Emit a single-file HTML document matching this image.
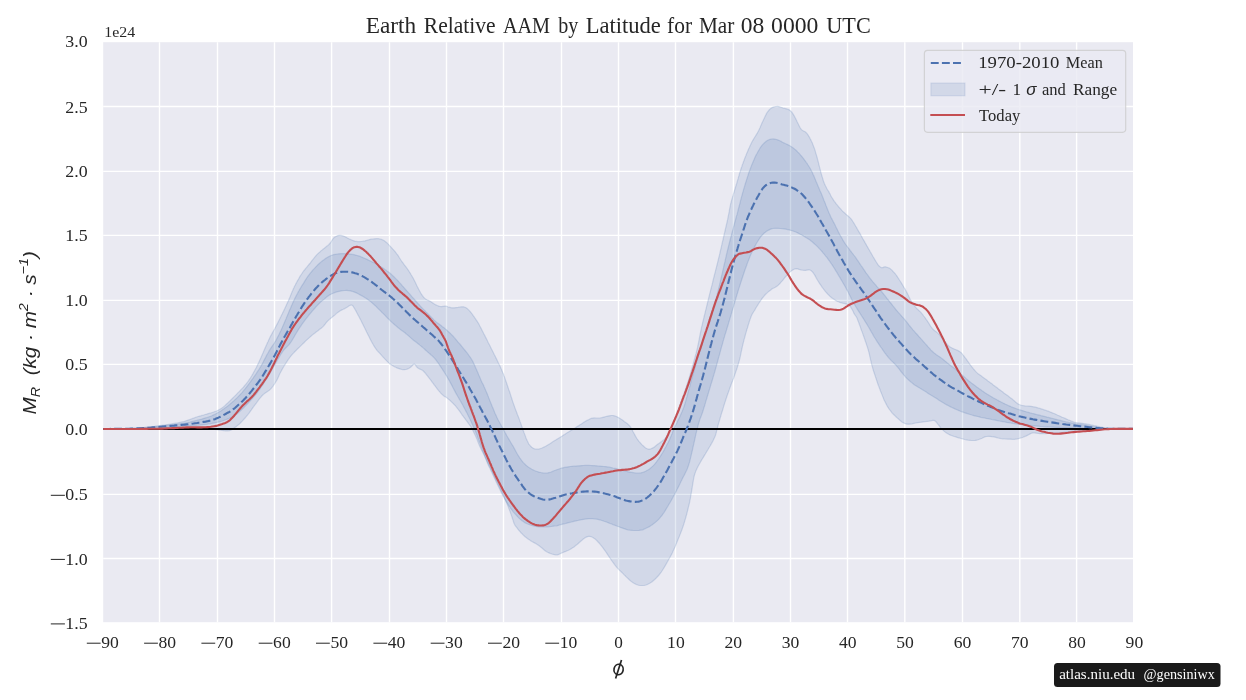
<!DOCTYPE html><html><head><meta charset="utf-8"><style>html,body{margin:0;padding:0;background:#fff;width:1246px;height:700px;overflow:hidden}</style></head><body><div style="will-change:transform;position:absolute;left:0;top:0;width:1246px;height:700px"><svg width="1246" height="700" viewBox="0 0 1246 700" style="position:absolute;left:0;top:0">
<rect width="1246" height="700" fill="#fff"/>
<rect x="103.2" y="42.2" width="1029.8" height="580.0" fill="#eaeaf2"/>
<g stroke="#fff" stroke-width="1.4" fill="none">
<path d="M159.5,42.2V622.2"/>
<path d="M217.5,42.2V622.2"/>
<path d="M274.5,42.2V622.2"/>
<path d="M331.6,42.2V622.2"/>
<path d="M389.5,42.2V622.2"/>
<path d="M446.5,42.2V622.2"/>
<path d="M503.5,42.2V622.2"/>
<path d="M561.5,42.2V622.2"/>
<path d="M618.5,42.2V622.2"/>
<path d="M675.5,42.2V622.2"/>
<path d="M733.4,42.2V622.2"/>
<path d="M790.5,42.2V622.2"/>
<path d="M847.5,42.2V622.2"/>
<path d="M904.8,42.2V622.2"/>
<path d="M962.5,42.2V622.2"/>
<path d="M1019.8,42.2V622.2"/>
<path d="M1076.6,42.2V622.2"/>
<path d="M103.2,106.5H1133.0"/>
<path d="M103.2,171.4H1133.0"/>
<path d="M103.2,235.4H1133.0"/>
<path d="M103.2,300.4H1133.0"/>
<path d="M103.2,364.4H1133.0"/>
<path d="M103.2,494.4H1133.0"/>
<path d="M103.2,558.5H1133.0"/>
</g>
<clipPath id="cp"><rect x="103.2" y="42.2" width="1029.8" height="580.0"/></clipPath>
<g clip-path="url(#cp)">
<path d="M103.0,428.8L104.3,428.8L106.0,428.8L107.9,428.8L110.0,428.8L112.3,428.8L114.7,428.8L117.1,428.7L119.4,428.7L121.5,428.6L123.4,428.6L125.3,428.6L127.1,428.5L129.0,428.5L130.8,428.4L132.7,428.3L134.5,428.2L136.4,428.1L138.3,428.0L140.1,427.9L141.9,427.8L143.7,427.6L145.5,427.4L147.3,427.2L149.1,427.0L150.9,426.8L152.7,426.6L154.4,426.4L156.2,426.1L157.9,425.9L159.7,425.7L161.5,425.4L163.4,425.1L165.4,424.9L167.2,424.6L169.1,424.3L170.9,424.0L172.7,423.7L174.3,423.4L175.9,423.1L177.5,422.9L179.3,422.5L181.0,422.1L182.4,421.8L183.8,421.5L185.2,421.1L186.6,420.6L188.1,420.1L189.7,419.6L191.2,419.0L192.8,418.4L194.3,417.9L195.9,417.3L197.4,416.8L199.0,416.3L200.5,415.9L202.1,415.4L203.6,415.0L205.2,414.5L206.7,414.1L208.3,413.6L209.9,413.2L211.5,412.7L213.0,412.2L214.4,411.7L215.8,411.2L217.1,410.7L218.3,410.1L219.5,409.5L220.7,408.8L221.9,408.0L223.0,407.2L224.0,406.4L225.1,405.5L226.1,404.5L227.2,403.5L228.3,402.5L229.3,401.5L230.4,400.5L231.4,399.5L232.4,398.5L233.4,397.5L234.5,396.4L235.6,395.3L236.7,394.2L237.6,393.2L238.6,392.2L239.5,391.3L240.5,390.2L241.5,389.2L242.5,388.2L243.5,387.1L244.4,386.0L245.3,384.9L246.2,383.8L247.1,382.7L248.0,381.5L248.8,380.4L249.6,379.2L250.4,378.0L251.1,376.7L251.9,375.5L252.7,374.1L253.4,372.8L254.1,371.5L254.8,370.3L255.5,369.0L256.2,367.7L256.8,366.4L257.5,365.0L258.2,363.6L258.9,362.2L259.5,360.8L260.1,359.4L260.8,358.0L261.4,356.6L262.0,355.2L262.6,353.8L263.2,352.5L263.8,351.1L264.4,349.7L265.0,348.3L265.6,346.9L266.2,345.5L266.8,344.2L267.4,342.8L268.1,341.5L268.7,340.1L269.3,338.8L269.9,337.4L270.6,336.1L271.3,334.9L272.0,333.6L272.6,332.4L273.3,331.2L274.0,330.0L274.7,328.8L275.3,327.5L276.0,326.2L276.7,324.9L277.4,323.6L278.1,322.2L278.8,320.8L279.5,319.4L280.2,318.0L280.9,316.6L281.5,315.3L282.2,313.9L282.8,312.6L283.5,311.3L284.1,309.9L284.8,308.5L285.4,307.2L286.0,305.9L286.6,304.6L287.2,303.3L287.8,302.0L288.4,300.7L289.0,299.3L289.6,297.9L290.2,296.5L290.8,295.0L291.4,293.6L292.0,292.1L292.6,290.7L293.2,289.2L293.9,287.8L294.6,286.3L295.3,285.0L296.0,283.6L296.7,282.3L297.4,280.9L298.2,279.6L299.0,278.2L299.7,276.9L300.5,275.7L301.3,274.5L302.1,273.3L302.9,272.0L303.9,270.7L304.8,269.6L305.7,268.4L306.7,267.3L307.6,266.2L308.5,265.1L309.4,264.0L310.4,262.8L311.3,261.6L312.2,260.4L313.2,259.2L314.1,258.0L315.0,256.9L315.9,255.8L316.9,254.7L318.0,253.6L319.1,252.6L320.2,251.7L321.2,250.7L322.3,249.9L323.3,249.0L324.4,248.2L325.6,247.2L326.7,246.3L327.9,245.4L328.9,244.5L329.8,243.5L330.7,242.5L331.4,241.3L332.1,240.1L332.8,239.0L333.7,238.0L334.9,237.1L336.3,236.2L337.7,235.6L339.3,235.3L341.0,235.4L342.9,235.9L344.6,236.5L346.1,237.2L347.4,238.0L348.8,238.7L350.3,239.4L351.7,240.0L353.2,240.6L354.7,241.1L356.2,241.4L357.8,241.7L359.6,241.7L361.5,241.5L363.3,241.2L365.1,240.8L366.7,240.4L368.1,240.0L369.6,239.6L371.1,239.2L372.7,239.0L374.5,238.8L376.4,238.7L378.3,238.7L380.0,239.0L381.5,239.4L382.9,240.0L384.3,240.8L385.5,241.7L386.5,242.5L387.5,243.4L388.4,244.3L389.3,245.3L390.3,246.3L391.2,247.3L392.1,248.3L393.0,249.3L394.0,250.4L394.9,251.5L395.8,252.6L396.7,253.8L397.6,254.9L398.4,256.1L399.1,257.3L399.9,258.5L400.7,259.8L401.5,261.0L402.3,262.1L403.1,263.2L403.9,264.3L404.7,265.3L405.5,266.3L406.3,267.4L407.1,268.5L407.9,269.6L408.7,270.8L409.5,272.1L410.3,273.3L411.1,274.7L411.9,276.0L412.7,277.4L413.5,278.8L414.2,280.2L414.9,281.6L415.6,283.0L416.3,284.5L417.0,286.0L417.7,287.4L418.4,288.7L419.1,290.0L419.8,291.4L420.6,292.8L421.4,294.1L422.2,295.3L423.0,296.4L423.8,297.5L424.8,298.4L426.0,299.3L427.4,300.0L428.8,300.6L430.1,301.2L431.3,301.9L432.4,302.7L433.5,303.5L434.7,304.2L435.9,304.9L437.2,305.5L438.7,306.1L440.0,306.5L441.5,306.6L443.2,306.3L444.9,306.0L446.4,306.2L447.7,306.7L449.2,307.2L450.7,307.6L452.4,307.8L454.3,307.8L456.1,307.6L458.0,307.4L459.9,307.0L461.8,306.8L463.5,306.8L464.8,307.2L466.0,307.8L467.1,308.5L468.1,309.4L469.1,310.4L470.0,311.3L470.8,312.3L471.6,313.3L472.4,314.4L473.2,315.6L474.0,316.7L474.8,317.9L475.5,318.9L476.1,319.8L476.7,320.7L477.3,321.6L478.1,322.8L479.0,324.4L479.8,326.0L480.5,327.3L481.2,328.6L481.8,329.9L482.5,331.2L483.2,332.6L483.9,334.0L484.7,335.4L485.4,336.9L486.2,338.4L486.9,339.8L487.6,341.3L488.3,342.7L489.1,344.2L489.8,345.6L490.5,347.0L491.2,348.4L491.9,349.8L492.6,351.2L493.4,352.8L494.1,354.3L494.8,355.5L495.4,356.7L495.9,357.9L496.6,359.1L497.2,360.4L497.8,361.7L498.4,363.0L499.1,364.3L499.7,365.5L500.3,366.8L500.9,368.2L501.5,369.6L502.1,371.0L502.7,372.5L503.3,373.8L503.8,375.2L504.3,376.5L504.8,377.9L505.3,379.4L505.8,380.9L506.3,382.3L506.8,383.8L507.3,385.3L507.8,386.8L508.3,388.3L508.8,389.8L509.4,391.3L509.9,392.8L510.4,394.4L510.9,395.9L511.4,397.5L511.9,399.0L512.4,400.6L512.9,402.1L513.4,403.6L513.9,405.0L514.5,406.6L515.0,408.1L515.6,409.7L516.2,411.2L516.8,412.7L517.3,414.2L517.9,415.6L518.4,417.1L519.0,418.5L519.5,419.9L520.0,421.4L520.6,422.9L521.1,424.4L521.6,425.9L522.1,427.3L522.6,428.8L523.1,430.2L523.6,431.5L524.1,432.9L524.7,434.4L525.3,435.9L525.8,437.4L526.4,438.9L527.0,440.3L527.6,441.6L528.2,442.8L528.8,444.1L529.8,445.2L530.7,446.3L531.7,447.2L532.8,448.0L533.9,448.6L535.1,449.0L536.4,449.2L537.8,449.2L539.2,448.9L540.6,448.5L542.0,448.0L543.4,447.4L544.7,446.7L546.1,446.0L547.4,445.2L548.6,444.5L549.9,443.7L551.1,442.9L552.4,442.1L553.6,441.3L554.8,440.6L556.1,439.8L557.3,439.0L558.6,438.2L559.8,437.5L561.0,436.7L562.3,435.9L563.5,435.1L564.7,434.4L566.0,433.6L567.2,432.8L568.5,432.0L569.7,431.3L570.9,430.5L572.2,429.7L573.4,428.9L574.7,428.2L575.9,427.4L577.1,426.6L578.4,425.9L579.6,425.1L580.9,424.3L582.2,423.4L583.4,422.6L584.7,421.8L585.9,421.1L587.1,420.4L588.5,419.7L589.8,419.0L591.2,418.4L592.7,418.1L594.4,417.9L596.2,418.0L598.1,418.0L599.9,418.0L601.6,417.7L603.1,417.3L604.6,416.9L606.1,416.5L607.6,416.1L609.4,415.8L611.3,415.5L612.9,415.5L614.4,415.8L615.8,416.3L617.2,416.9L618.5,417.6L619.7,418.3L620.8,419.0L622.0,419.7L623.1,420.5L624.2,421.4L625.3,422.2L626.5,423.1L627.7,424.0L628.7,425.0L629.7,426.0L630.6,427.2L631.4,428.5L632.1,429.8L632.8,431.2L633.5,432.5L634.2,433.8L634.9,435.1L635.6,436.4L636.4,437.7L637.2,439.0L638.0,440.1L638.9,441.3L639.9,442.4L640.8,443.5L641.8,444.6L642.8,445.5L643.9,446.5L645.0,447.4L646.1,448.2L647.2,448.8L648.4,449.1L649.7,449.1L651.1,448.8L652.5,448.1L653.9,447.4L655.0,446.5L656.2,445.5L657.3,444.6L658.5,443.8L659.6,442.9L660.7,442.1L661.7,441.4L662.7,440.6L663.7,439.9L664.5,439.1L665.4,438.2L666.1,437.2L666.9,436.1L667.6,434.9L668.4,433.5L669.1,432.1L669.9,430.6L670.6,429.0L671.2,427.7L671.7,426.4L672.2,425.0L672.8,423.7L673.3,422.2L673.9,420.8L674.5,419.3L675.0,417.8L675.6,416.4L676.1,414.9L676.6,413.5L677.2,412.1L677.7,410.6L678.3,409.1L678.9,407.6L679.4,406.2L680.0,404.7L680.5,403.3L681.1,401.8L681.6,400.4L682.2,398.9L682.7,397.3L683.2,395.9L683.8,394.4L684.3,392.9L684.8,391.3L685.3,389.8L685.8,388.2L686.3,386.7L686.8,385.1L687.3,383.6L687.8,382.1L688.3,380.6L688.8,379.0L689.3,377.4L689.8,375.8L690.2,374.3L690.7,372.8L691.1,371.2L691.6,369.6L692.0,368.1L692.5,366.4L692.9,364.8L693.4,363.3L693.8,361.7L694.2,360.1L694.7,358.6L695.1,357.0L695.5,355.3L696.0,353.7L696.4,352.1L696.8,350.4L697.2,348.8L697.6,347.2L697.9,345.5L698.3,344.0L698.6,342.4L698.9,340.8L699.2,339.2L699.5,337.6L699.8,336.0L700.1,334.3L700.5,332.5L700.9,330.6L701.3,328.7L701.6,327.2L702.0,325.7L702.4,324.1L702.7,322.5L703.1,320.9L703.5,319.3L703.9,317.7L704.3,316.0L704.7,314.4L705.1,312.7L705.5,311.1L705.9,309.4L706.3,307.8L706.7,306.2L707.1,304.6L707.5,302.9L707.9,301.3L708.3,299.7L708.7,298.0L709.1,296.4L709.5,294.7L709.9,293.2L710.3,291.6L710.7,290.0L711.1,288.5L711.5,286.9L711.9,285.4L712.3,283.9L712.7,282.3L713.0,280.7L713.4,279.2L713.8,277.6L714.2,276.0L714.6,274.4L715.0,272.9L715.4,271.3L715.8,269.7L716.2,268.1L716.6,266.6L717.0,265.0L717.4,263.4L717.8,261.8L718.2,260.2L718.6,258.5L719.0,256.9L719.4,255.3L719.8,253.7L720.1,252.1L720.5,250.5L720.9,248.8L721.3,247.2L721.7,245.5L722.0,243.9L722.4,242.2L722.8,240.6L723.2,239.0L723.5,237.4L723.9,235.8L724.2,234.2L724.6,232.7L725.0,231.0L725.4,229.2L725.8,227.5L726.2,225.7L726.6,224.0L727.0,222.3L727.3,220.8L727.7,219.2L728.0,217.7L728.3,216.2L728.6,214.7L728.9,213.2L729.2,211.7L729.4,210.2L729.7,208.7L730.0,207.2L730.3,205.7L730.6,204.2L731.0,202.6L731.4,201.1L731.8,199.6L732.3,198.0L732.7,196.5L733.2,194.9L733.7,193.2L734.2,191.5L734.7,189.8L735.2,188.2L735.7,186.6L736.2,185.0L736.7,183.5L737.1,181.9L737.6,180.3L738.1,178.7L738.5,177.1L739.0,175.5L739.4,173.9L739.9,172.4L740.4,170.9L740.8,169.5L741.3,168.0L741.9,166.4L742.4,164.8L743.0,163.2L743.5,161.7L744.1,160.2L744.6,158.7L745.2,157.3L745.8,155.9L746.3,154.5L746.9,153.1L747.5,151.7L748.1,150.2L748.7,148.8L749.4,147.5L750.0,146.1L750.6,144.8L751.2,143.5L751.8,142.3L752.5,141.0L753.3,139.6L754.1,138.3L754.9,137.0L755.7,135.7L756.5,134.4L757.3,133.1L758.0,131.8L758.7,130.4L759.4,128.9L760.1,127.4L760.7,125.9L761.4,124.5L762.0,123.0L762.7,121.6L763.3,120.2L764.0,118.7L764.7,117.3L765.3,115.9L766.0,114.6L766.6,113.4L767.4,112.2L768.2,111.1L769.1,110.0L770.0,109.1L771.0,108.3L772.2,107.6L773.8,106.9L775.6,106.5L777.4,106.4L778.9,106.6L780.3,107.0L781.7,107.5L783.1,108.0L784.7,108.4L786.4,108.8L788.0,109.3L789.5,110.1L790.6,111.0L791.6,112.0L792.5,113.2L793.4,114.6L794.2,115.9L794.9,117.2L795.6,118.6L796.3,120.0L797.0,121.5L797.7,122.9L798.3,124.1L798.9,125.4L799.6,126.7L800.3,128.0L800.9,129.0L801.7,129.9L802.7,130.6L803.9,131.2L805.1,131.8L806.2,132.7L807.1,133.7L807.9,134.8L808.7,136.1L809.5,137.4L810.2,138.8L810.9,140.1L811.5,141.4L812.1,142.6L812.6,143.8L813.1,145.1L813.6,146.5L814.2,147.9L814.7,149.4L815.2,150.9L815.6,152.5L816.1,154.1L816.6,155.8L817.1,157.5L817.5,159.2L818.0,160.9L818.4,162.5L818.8,164.1L819.2,165.8L819.6,167.4L820.0,168.9L820.4,170.5L820.8,172.0L821.2,173.6L821.7,175.2L822.2,176.9L822.7,178.5L823.2,180.2L823.7,181.7L824.3,183.3L824.9,184.7L825.5,186.1L826.2,187.3L826.8,188.5L827.5,189.7L828.2,190.8L828.9,191.9L829.5,193.1L830.2,194.3L830.7,195.4L831.3,196.6L832.0,197.7L832.8,198.9L833.5,200.1L834.3,201.3L835.2,202.4L836.0,203.6L836.9,204.7L837.9,205.9L838.8,207.0L839.8,208.1L840.8,209.2L841.8,210.3L842.8,211.3L843.8,212.3L844.9,213.2L845.9,214.2L847.0,215.1L848.0,216.0L848.9,216.8L849.6,217.5L850.1,217.9L850.5,218.2L851.0,218.8L851.8,219.9L853.0,221.8L854.3,223.8L855.1,225.2L855.6,226.1L856.2,227.0L856.8,228.1L857.4,229.2L858.1,230.4L858.8,231.6L859.6,232.9L860.4,234.3L861.2,235.8L862.0,237.2L862.8,238.7L863.6,240.1L864.5,241.6L865.3,243.1L866.2,244.6L867.0,246.1L867.9,247.6L868.7,249.1L869.6,250.5L870.4,252.0L871.2,253.4L872.0,254.8L872.8,256.2L873.6,257.5L874.4,258.9L875.1,260.1L875.8,261.2L876.4,262.2L877.0,263.2L877.6,264.1L878.1,264.9L879.3,266.2L881.3,267.7L883.0,267.6L884.2,266.9L885.5,266.8L886.9,267.2L888.3,267.7L889.6,268.3L890.7,269.1L891.6,269.9L892.5,270.8L893.4,271.8L894.4,272.8L895.3,273.9L896.1,275.0L896.9,276.1L897.7,277.3L898.5,278.5L899.3,279.8L900.1,281.0L900.9,282.3L901.7,283.6L902.5,284.9L903.3,286.2L904.1,287.6L904.9,288.9L905.7,290.2L906.4,291.6L907.1,292.9L907.8,294.3L908.5,295.7L909.1,297.1L909.8,298.4L910.4,299.7L911.1,300.9L911.8,302.1L912.6,303.3L913.4,304.3L914.1,305.4L914.9,306.4L915.7,307.4L916.6,308.3L917.5,309.2L918.5,310.1L919.4,311.0L920.4,311.9L921.3,312.9L922.1,313.9L922.9,314.9L923.7,316.0L924.5,317.0L925.3,318.1L926.1,319.3L926.9,320.4L927.7,321.6L928.5,322.8L929.3,324.1L930.1,325.4L930.9,326.6L931.7,327.7L932.5,328.8L933.6,329.8L934.7,330.7L935.8,331.6L936.9,332.4L938.0,333.4L939.0,334.4L939.9,335.4L940.8,336.5L941.7,337.6L942.7,338.8L943.6,339.9L944.5,341.0L945.5,342.2L946.4,343.4L947.3,344.5L948.2,345.5L949.3,346.4L950.6,347.3L952.0,348.0L953.3,348.6L954.7,349.2L956.1,349.8L957.5,350.4L958.9,351.1L960.2,351.9L961.2,352.8L962.2,353.9L963.1,355.1L964.0,356.2L964.8,357.3L965.7,358.5L966.6,359.6L967.4,360.8L968.3,362.0L969.1,363.2L969.9,364.3L970.8,365.5L971.6,366.6L972.5,367.7L973.4,368.8L974.3,369.8L975.2,370.9L976.1,371.9L977.1,372.9L978.1,373.7L979.2,374.5L980.3,375.3L981.4,376.1L982.5,376.9L983.6,377.7L984.6,378.4L985.7,379.2L986.8,380.0L987.9,380.9L989.0,381.7L990.0,382.5L991.1,383.3L992.2,384.1L993.2,384.9L994.3,385.7L995.3,386.5L996.4,387.3L997.5,388.1L998.5,388.9L999.6,389.7L1000.7,390.5L1001.7,391.3L1002.8,392.1L1003.8,392.9L1004.9,393.7L1006.0,394.5L1007.1,395.3L1008.2,396.1L1009.3,396.9L1010.3,397.7L1011.4,398.5L1012.4,399.3L1013.5,400.3L1014.7,401.3L1015.8,402.2L1016.8,403.1L1018.0,403.9L1019.2,404.5L1020.6,405.0L1022.0,405.4L1023.5,405.7L1025.2,405.9L1027.1,406.0L1029.0,406.1L1030.8,406.3L1032.4,406.6L1033.9,406.9L1035.4,407.2L1036.9,407.6L1038.3,408.0L1039.8,408.4L1041.3,408.9L1042.8,409.4L1044.3,409.9L1045.8,410.4L1047.3,410.9L1048.7,411.4L1050.2,412.0L1051.7,412.6L1053.2,413.2L1054.7,413.8L1056.2,414.5L1057.7,415.2L1059.1,415.8L1060.6,416.5L1062.1,417.2L1063.6,417.8L1065.1,418.4L1066.6,419.1L1068.0,419.7L1069.5,420.3L1070.8,420.9L1072.2,421.4L1073.8,422.0L1075.4,422.4L1077.0,422.7L1078.8,422.9L1080.5,423.1L1082.2,423.3L1083.9,423.6L1085.6,423.8L1087.3,424.1L1089.0,424.4L1090.6,424.8L1092.3,425.1L1093.9,425.5L1095.5,425.8L1097.1,426.2L1098.7,426.5L1100.3,426.9L1101.9,427.2L1103.5,427.5L1105.1,427.8L1106.7,428.0L1108.5,428.3L1110.2,428.5L1112.0,428.7L1114.0,428.8L1116.2,428.9L1118.2,428.9L1120.4,429.0L1122.8,429.0L1125.2,429.0L1127.5,428.9L1129.7,428.9L1131.4,428.9L1132.9,428.9L1132.9,428.9L1131.4,428.9L1129.7,428.9L1127.5,428.9L1125.2,428.9L1122.8,428.9L1120.4,428.9L1118.2,428.9L1116.3,428.9L1114.3,429.0L1112.3,429.0L1110.4,429.1L1108.5,429.1L1106.6,429.2L1104.7,429.3L1102.8,429.5L1100.9,429.6L1099.0,429.7L1097.1,429.9L1095.2,430.1L1093.2,430.2L1091.3,430.4L1089.3,430.5L1087.4,430.6L1085.4,430.8L1083.4,430.9L1081.3,430.8L1079.3,430.8L1077.3,430.8L1075.4,430.8L1073.4,431.0L1071.5,431.2L1069.8,431.5L1068.0,431.7L1066.2,432.0L1064.3,432.2L1062.5,432.5L1060.6,432.7L1058.8,432.8L1056.9,433.0L1055.1,433.1L1053.2,433.2L1051.3,433.3L1049.5,433.4L1047.6,433.5L1045.8,433.6L1043.9,433.6L1042.0,433.7L1040.1,433.7L1038.3,433.5L1036.4,433.2L1034.6,432.8L1032.9,432.8L1031.4,433.2L1030.0,433.9L1028.6,434.7L1027.2,435.4L1025.8,436.1L1024.4,436.6L1023.0,437.2L1021.6,437.7L1020.3,438.1L1018.9,438.5L1017.5,438.9L1016.0,439.1L1014.3,439.3L1012.4,439.3L1010.5,439.2L1008.6,439.2L1006.8,439.1L1004.9,439.0L1003.0,438.8L1001.3,438.6L999.7,438.3L998.2,438.0L996.7,437.6L995.2,437.2L993.7,436.9L991.8,436.7L989.9,436.4L988.1,436.3L986.4,436.5L984.8,436.9L983.4,437.5L982.1,438.2L980.8,438.8L979.4,439.3L978.1,439.8L976.7,440.2L975.1,440.4L973.4,440.5L971.6,440.5L969.7,440.3L967.9,440.1L966.3,439.8L964.8,439.5L963.3,439.1L961.8,438.7L960.3,438.2L958.8,437.8L957.3,437.4L955.7,436.9L954.3,436.5L952.8,436.0L951.4,435.5L950.0,434.9L948.7,434.3L947.4,433.6L946.2,432.8L945.0,431.9L943.8,430.9L942.8,429.9L941.7,428.9L940.7,427.8L939.8,426.6L938.9,425.4L938.0,424.3L937.1,423.1L936.2,422.0L935.2,421.0L934.1,420.4L932.6,420.4L930.7,420.8L928.9,421.2L927.1,421.4L925.1,421.6L923.2,421.9L921.3,422.2L919.4,422.4L917.6,422.7L915.7,423.0L913.8,423.4L911.9,423.8L910.1,424.1L908.4,424.2L906.8,424.1L905.4,423.7L904.1,423.1L902.8,422.4L901.6,421.7L900.5,420.8L899.4,419.9L898.3,418.8L897.2,417.9L896.2,417.0L895.3,416.1L894.4,415.2L893.4,414.3L892.5,413.3L891.6,412.3L890.8,411.2L890.0,410.2L889.2,409.1L888.4,407.9L887.6,406.7L886.8,405.3L886.1,403.9L885.4,402.6L884.8,401.3L884.1,399.9L883.5,398.4L882.9,396.9L882.3,395.4L881.7,393.9L881.1,392.4L880.5,391.0L880.0,389.5L879.4,388.1L878.9,386.6L878.3,385.2L877.8,383.7L877.3,382.3L876.8,380.8L876.3,379.3L875.8,377.8L875.3,376.4L874.8,374.8L874.3,373.3L873.8,371.8L873.3,370.3L872.9,368.8L872.5,367.2L872.0,365.7L871.6,364.1L871.2,362.6L870.9,361.0L870.5,359.4L870.2,357.8L869.8,356.3L869.5,354.7L869.1,353.2L868.7,351.6L868.3,350.1L867.8,348.5L867.4,347.0L866.8,345.4L866.3,343.9L865.7,342.0L865.1,340.5L864.7,339.1L864.1,337.6L863.6,336.0L863.0,334.4L862.4,332.6L861.7,330.9L861.1,329.2L860.5,327.4L859.9,325.8L859.3,324.2L858.8,322.7L858.3,321.4L857.8,320.2L857.3,318.8L856.5,317.1L855.8,316.0L855.3,315.3L854.7,314.5L854.0,313.4L853.4,312.1L852.8,310.8L852.1,309.5L851.4,308.2L850.7,307.1L849.9,306.1L848.8,305.2L847.7,304.5L846.5,304.1L845.2,303.7L843.5,303.3L841.7,302.9L839.9,302.4L838.4,301.8L837.0,301.2L835.6,300.4L834.3,299.6L833.1,298.8L832.0,298.0L830.8,297.0L829.7,296.0L828.7,295.0L827.7,294.0L826.8,293.0L825.8,291.9L824.9,290.8L824.0,289.7L823.1,288.5L822.2,287.3L821.4,286.1L820.6,284.9L819.7,283.7L818.9,282.4L818.2,281.2L817.4,280.0L816.6,278.6L815.9,277.3L815.2,275.9L814.5,274.7L813.7,273.6L812.9,272.4L811.9,271.4L811.0,270.5L809.9,270.0L808.5,269.9L807.0,270.1L805.4,270.4L803.8,270.3L802.3,270.1L800.8,269.8L799.2,269.4L797.7,268.9L796.1,268.7L794.6,269.0L793.1,269.8L791.6,270.7L790.6,271.6L789.6,272.4L788.7,273.4L787.7,274.4L786.8,275.4L785.9,276.4L784.9,277.5L784.0,278.7L783.1,279.8L782.2,280.9L781.2,281.9L780.3,283.0L779.4,284.0L778.5,284.9L777.6,285.8L776.5,286.6L775.3,287.3L773.9,288.0L772.4,288.6L771.3,289.5L770.1,290.4L769.0,291.2L767.9,292.1L766.9,293.1L765.9,294.0L764.9,295.0L764.0,296.1L763.2,297.1L762.3,298.2L761.5,299.4L760.7,300.5L759.8,301.8L759.0,303.0L758.2,304.3L757.4,305.6L756.5,307.0L755.7,308.3L755.0,309.6L754.3,310.8L753.5,312.0L752.8,313.1L752.1,314.2L751.5,315.5L751.0,316.8L750.5,318.2L750.0,319.6L749.4,321.3L748.9,323.0L748.3,324.8L747.8,326.6L747.4,328.0L746.9,329.4L746.5,330.9L746.1,332.4L745.6,333.9L745.2,335.5L744.8,337.1L744.3,338.7L743.9,340.3L743.5,341.9L743.1,343.5L742.7,345.1L742.3,346.8L742.0,348.5L741.6,350.2L741.2,351.9L740.9,353.6L740.5,355.3L740.2,356.9L739.8,358.6L739.4,360.1L739.0,361.7L738.5,363.2L738.1,364.7L737.6,366.2L737.2,367.7L736.7,369.2L736.2,370.6L735.7,372.1L735.2,373.5L734.7,375.0L734.2,376.5L733.7,378.0L733.1,379.4L732.6,380.9L732.0,382.3L731.4,383.8L730.9,385.3L730.3,386.8L729.7,388.3L729.2,389.9L728.7,391.3L728.2,392.8L727.6,394.3L727.1,395.7L726.6,397.3L726.1,398.8L725.6,400.3L725.1,401.9L724.6,403.4L724.1,405.0L723.6,406.6L723.2,408.1L722.7,409.7L722.2,411.3L721.7,412.8L721.2,414.4L720.8,416.0L720.3,417.5L719.9,419.1L719.4,420.6L719.0,422.1L718.5,423.6L718.1,425.1L717.7,426.5L717.4,428.0L717.0,429.4L716.7,430.6L716.4,431.9L716.1,433.2L715.7,434.6L715.1,436.2L714.3,438.0L713.5,439.8L712.9,441.0L712.3,442.1L711.7,443.2L711.0,444.4L710.3,445.7L709.5,447.0L708.7,448.3L707.9,449.7L707.0,451.1L706.2,452.5L705.3,454.0L704.4,455.4L703.6,456.9L702.7,458.3L701.8,459.7L701.0,461.1L700.2,462.5L699.5,463.7L698.8,465.0L698.1,466.3L697.4,467.6L696.8,468.9L696.2,470.2L695.6,471.6L695.1,473.1L694.6,474.5L694.2,476.0L693.9,477.5L693.6,479.0L693.3,480.5L693.1,482.0L692.8,483.6L692.6,485.1L692.3,486.6L692.1,488.2L691.8,489.9L691.5,491.6L691.2,493.3L690.9,495.1L690.6,496.9L690.3,498.7L689.9,500.5L689.6,502.3L689.2,504.0L688.8,505.6L688.4,507.2L688.0,508.9L687.6,510.5L687.2,512.2L686.8,513.8L686.3,515.5L685.9,517.1L685.4,518.7L685.0,520.2L684.5,521.7L684.1,523.2L683.6,524.7L683.1,526.3L682.5,527.9L682.0,529.5L681.4,531.0L680.8,532.5L680.3,533.9L679.7,535.3L679.2,536.7L678.6,538.1L678.0,539.5L677.4,541.0L676.8,542.5L676.2,544.0L675.6,545.5L675.0,547.0L674.3,548.4L673.7,549.8L673.1,551.1L672.5,552.5L671.8,553.9L671.1,555.2L670.4,556.5L669.7,557.8L669.0,559.0L668.3,560.2L667.6,561.5L666.9,562.7L666.1,564.1L665.3,565.5L664.5,566.9L663.7,568.2L662.9,569.5L662.1,570.8L661.3,572.0L660.4,573.2L659.5,574.4L658.6,575.5L657.6,576.5L656.7,577.5L655.7,578.5L654.7,579.5L653.5,580.5L652.4,581.5L651.3,582.3L650.1,583.1L648.8,583.8L647.4,584.5L646.0,585.0L644.5,585.3L642.8,585.5L640.9,585.5L639.2,585.3L637.7,585.0L636.3,584.5L634.9,583.8L633.5,583.1L632.4,582.3L631.2,581.4L630.1,580.5L629.0,579.5L628.0,578.5L627.0,577.6L626.0,576.7L625.1,575.7L624.2,574.8L623.3,573.8L622.3,572.9L621.4,572.0L620.5,571.1L619.5,570.2L618.6,569.3L617.7,568.3L616.8,567.3L616.0,566.3L615.2,565.3L614.4,564.3L613.6,563.2L612.8,562.1L612.0,561.0L611.2,559.9L610.4,558.7L609.6,557.5L608.8,556.3L608.0,555.1L607.2,553.9L606.4,552.7L605.6,551.5L604.8,550.4L604.0,549.3L603.2,548.2L602.4,547.1L601.6,546.1L600.8,545.1L600.0,544.1L599.1,543.0L598.1,542.0L597.2,541.0L596.3,540.1L595.4,539.3L594.3,538.4L592.9,537.5L591.3,536.7L589.8,536.4L588.3,536.4L586.8,536.9L585.3,537.6L584.1,538.4L583.0,539.2L581.9,540.2L580.7,541.2L579.6,542.2L578.5,543.2L577.4,544.2L576.3,545.1L575.1,546.0L574.0,546.9L572.6,547.8L571.2,548.7L569.9,549.5L568.5,550.2L567.1,550.8L565.7,551.4L564.3,551.9L562.9,552.5L561.5,553.1L560.1,553.8L558.7,554.4L557.2,554.8L555.5,554.8L553.6,554.4L551.9,554.0L550.3,553.5L549.0,552.9L547.6,552.3L546.2,551.5L545.1,550.7L543.9,549.8L542.8,548.8L541.7,547.8L540.6,546.9L539.5,546.1L538.4,545.3L537.2,544.5L536.1,543.8L534.9,543.1L533.6,542.4L532.3,541.7L531.0,540.9L529.7,540.1L528.5,539.3L527.3,538.5L526.2,537.6L525.1,536.8L524.1,535.8L523.1,534.9L522.2,533.9L521.2,533.0L520.3,531.9L519.4,530.9L518.5,529.9L517.7,528.8L516.9,527.7L516.0,526.7L515.2,525.6L514.6,524.5L514.0,523.3L513.6,522.0L513.2,520.6L512.7,519.2L512.2,517.8L511.8,516.4L511.2,514.9L510.7,513.4L510.2,511.9L509.6,510.4L509.0,508.9L508.4,507.4L507.9,505.9L507.3,504.5L506.7,503.0L506.1,501.7L505.6,500.3L505.0,499.0L504.5,497.7L503.9,496.4L503.3,495.1L502.7,493.7L502.0,492.2L501.3,490.7L500.5,489.0L499.8,487.5L499.2,486.2L498.6,484.9L498.0,483.7L497.4,482.3L496.7,480.9L496.0,479.5L495.3,478.0L494.6,476.5L493.8,475.0L493.1,473.5L492.4,472.0L491.7,470.5L491.0,469.0L490.3,467.6L489.7,466.3L489.0,465.0L488.5,463.8L487.9,462.7L487.4,461.7L486.8,460.4L485.9,458.6L485.1,457.0L484.6,455.9L484.2,455.1L483.7,454.3L483.2,453.3L482.6,452.1L482.0,450.9L481.4,449.7L480.8,448.5L480.2,447.2L479.6,445.9L479.0,444.6L478.5,443.4L478.0,442.0L477.5,440.7L477.0,439.3L476.4,437.9L475.8,436.6L475.2,435.3L474.6,434.0L474.0,432.7L473.4,431.4L472.7,430.0L472.0,428.7L471.2,427.4L470.5,426.2L469.7,425.1L468.9,424.0L468.1,422.8L467.2,421.7L466.3,420.5L465.5,419.4L464.6,418.2L463.8,417.1L462.9,415.9L462.1,414.8L461.3,413.6L460.5,412.4L459.6,411.2L458.8,410.1L458.0,409.0L457.1,407.9L456.3,406.8L455.3,405.7L454.2,404.5L453.1,403.4L452.1,402.4L451.0,401.4L450.0,400.4L448.9,399.5L447.8,398.6L446.8,397.8L445.7,397.1L444.6,396.4L443.6,395.7L442.5,394.8L441.5,393.9L440.5,392.8L439.6,391.7L438.6,390.6L437.6,389.3L436.7,388.1L435.8,386.9L434.9,385.7L434.0,384.6L433.2,383.4L432.3,382.3L431.5,381.2L430.8,380.2L430.0,379.2L429.2,378.2L428.4,377.1L427.5,376.0L426.6,374.8L425.7,373.6L424.7,372.5L423.8,371.5L422.8,370.6L421.4,369.8L419.9,369.1L418.6,368.5L417.3,367.6L416.3,366.3L415.4,364.8L414.5,364.1L413.5,364.4L412.4,365.5L411.1,366.7L409.9,367.8L408.6,368.5L407.2,369.1L405.8,369.5L404.4,369.7L402.9,369.6L401.5,369.3L399.9,368.9L398.4,368.4L396.9,367.9L395.7,367.3L394.4,366.7L393.2,366.0L392.0,365.3L390.9,364.6L389.8,363.7L388.7,362.9L387.7,361.9L386.7,360.9L385.8,359.9L384.8,358.9L383.9,357.9L382.9,356.8L382.0,355.8L381.0,354.7L380.1,353.7L379.1,352.7L378.1,351.6L377.2,350.6L376.3,349.4L375.4,348.2L374.6,346.9L373.8,345.7L373.0,344.3L372.3,343.0L371.5,341.6L370.8,340.2L370.1,338.9L369.4,337.5L368.7,336.1L368.0,334.7L367.3,333.3L366.6,331.9L365.9,330.4L365.2,329.0L364.5,327.6L363.8,326.2L363.1,324.8L362.4,323.4L361.7,322.0L361.0,320.6L360.3,319.2L359.6,317.9L358.9,316.5L358.1,315.1L357.4,313.7L356.6,312.3L355.9,310.9L355.2,309.7L354.6,308.6L353.9,307.5L353.1,306.2L352.2,305.2L351.3,305.0L350.1,305.3L348.8,306.0L347.5,306.9L346.1,307.8L344.7,308.6L343.3,309.3L341.9,309.9L340.5,310.6L339.2,311.4L338.1,312.2L336.9,313.1L335.8,314.1L334.7,315.1L333.6,316.0L332.5,316.9L331.4,317.8L330.3,318.7L329.1,319.6L328.1,320.7L327.1,321.7L326.2,322.7L325.3,323.9L324.4,325.0L323.5,326.1L322.5,327.1L321.5,328.0L320.4,328.8L319.3,329.6L318.3,330.4L317.2,331.2L316.1,332.0L315.0,332.9L313.9,333.7L312.8,334.6L311.7,335.5L310.6,336.5L309.6,337.4L308.5,338.4L307.4,339.4L306.3,340.4L305.2,341.4L304.2,342.5L303.1,343.5L302.0,344.6L301.0,345.6L299.9,346.7L298.8,347.8L297.7,348.8L296.6,349.9L295.5,351.0L294.5,352.0L293.5,353.1L292.5,354.1L291.6,355.2L290.8,356.2L290.0,357.2L289.2,358.3L288.4,359.3L287.7,360.4L286.9,361.6L286.1,362.8L285.3,364.1L284.5,365.3L283.7,366.7L282.9,368.0L282.1,369.4L281.4,370.8L280.6,372.2L279.9,373.6L279.2,375.1L278.6,376.6L277.9,378.0L277.2,379.4L276.5,380.8L275.7,382.0L275.0,383.3L274.2,384.4L273.5,385.5L272.7,386.6L271.9,387.6L271.1,388.5L270.2,389.4L269.2,390.3L268.2,391.1L267.1,391.8L266.0,392.5L264.9,393.2L263.8,394.1L262.8,395.0L261.8,396.0L260.9,397.1L260.0,398.2L259.0,399.4L258.1,400.6L257.2,401.8L256.3,403.1L255.4,404.3L254.5,405.4L253.7,406.6L252.9,407.7L252.0,408.9L251.2,410.1L250.4,411.2L249.6,412.4L248.7,413.5L247.9,414.6L247.0,415.7L246.0,416.8L245.0,418.0L244.1,419.0L243.1,420.1L242.2,421.1L241.3,422.0L240.4,423.0L239.3,424.0L238.1,425.0L237.0,425.9L236.0,426.7L234.8,427.6L233.6,428.5L232.2,429.4L230.8,430.1L229.3,430.6L227.7,430.8L225.9,430.8L224.0,430.6L222.0,430.3L220.3,430.1L218.6,429.9L216.8,429.6L214.8,429.3L212.8,429.1L210.9,428.8L209.1,428.7L207.4,428.5L205.6,428.4L203.8,428.3L201.9,428.1L199.9,428.0L197.9,428.0L195.9,427.9L194.0,427.9L192.0,427.9L189.9,427.9L187.8,427.9L185.7,427.9L183.6,428.0L181.5,428.0L179.4,428.1L177.3,428.1L175.4,428.1L173.6,428.2L171.8,428.2L170.0,428.2L168.2,428.3L166.3,428.3L164.3,428.4L162.0,428.4L159.9,428.5L158.0,428.5L156.4,428.5L154.6,428.5L152.7,428.6L150.8,428.6L148.9,428.6L146.9,428.6L144.9,428.7L142.8,428.7L140.8,428.7L138.8,428.7L136.7,428.8L134.8,428.8L132.8,428.8L130.8,428.8L128.8,428.8L126.6,428.9L124.3,428.9L122.0,428.9L119.7,428.9L117.4,428.9L115.2,428.9L113.0,429.0L110.9,429.0L108.9,429.0L107.2,429.0L105.6,429.0L104.2,429.0L103.0,429.0Z" fill="#4c72b0" fill-opacity="0.15" stroke="#4c72b0" stroke-opacity="0.2" stroke-width="1.2"/>
<path d="M103.0,428.8L104.2,428.8L105.6,428.8L107.2,428.8L108.9,428.8L110.9,428.8L113.0,428.8L115.2,428.8L117.4,428.8L119.7,428.8L122.0,428.7L124.3,428.7L126.6,428.6L128.8,428.5L130.8,428.5L132.7,428.4L134.5,428.2L136.4,428.1L138.3,428.0L140.2,427.8L142.1,427.7L144.0,427.5L145.9,427.3L147.8,427.2L149.6,427.0L151.4,426.8L153.2,426.7L154.9,426.5L156.6,426.3L158.1,426.2L159.8,426.0L161.9,425.8L164.0,425.6L165.9,425.4L167.8,425.3L169.6,425.1L171.2,424.9L172.8,424.7L174.4,424.5L175.8,424.4L177.4,424.2L179.1,423.9L180.8,423.7L182.3,423.5L183.8,423.2L185.2,423.0L186.8,422.7L188.4,422.3L190.0,422.0L191.6,421.6L193.3,421.2L195.0,420.8L196.8,420.4L198.5,419.9L200.2,419.5L201.8,419.1L203.3,418.6L204.9,418.1L206.4,417.7L207.8,417.2L209.2,416.7L210.6,416.2L211.9,415.7L213.2,415.1L214.5,414.5L215.9,413.8L217.2,413.1L218.6,412.3L219.9,411.5L221.2,410.7L222.4,409.8L223.7,409.0L224.9,408.1L226.1,407.3L227.2,406.4L228.4,405.5L229.6,404.5L230.7,403.5L231.9,402.5L233.0,401.5L234.1,400.6L235.1,399.6L236.1,398.7L237.2,397.7L238.2,396.6L239.2,395.6L240.3,394.5L241.3,393.4L242.3,392.3L243.2,391.2L244.0,390.2L244.9,389.2L245.7,388.1L246.5,387.0L247.4,385.9L248.2,384.8L249.1,383.7L249.9,382.5L250.8,381.3L251.6,380.2L252.4,379.1L253.2,378.0L253.9,376.9L254.7,375.8L255.5,374.7L256.3,373.5L257.0,372.4L257.8,371.2L258.6,370.0L259.4,368.8L260.1,367.5L260.9,366.2L261.6,364.9L262.4,363.6L263.2,362.1L263.9,360.6L264.7,359.1L265.5,357.6L266.2,356.2L266.9,354.8L267.7,353.5L268.4,352.2L269.1,350.9L269.9,349.7L270.6,348.5L271.4,347.3L272.2,346.2L273.0,345.0L273.8,343.9L274.5,342.7L275.3,341.4L276.0,340.2L276.7,338.9L277.4,337.5L278.2,336.1L278.9,334.7L279.6,333.2L280.3,331.8L281.0,330.4L281.6,329.0L282.3,327.5L282.9,326.0L283.6,324.6L284.2,323.1L284.8,321.7L285.4,320.3L286.0,318.9L286.5,317.5L287.2,316.0L287.8,314.6L288.4,313.1L289.0,311.6L289.6,310.1L290.3,308.7L290.9,307.2L291.5,305.8L292.1,304.4L292.7,303.0L293.4,301.5L294.1,300.1L294.8,298.6L295.5,297.2L296.2,295.8L296.9,294.5L297.6,293.2L298.3,291.8L299.1,290.5L299.9,289.1L300.7,287.7L301.5,286.4L302.3,285.1L303.1,283.9L303.9,282.6L304.6,281.4L305.4,280.1L306.2,278.9L306.9,277.8L307.7,276.6L308.6,275.4L309.4,274.3L310.3,273.2L311.2,272.1L312.1,271.0L313.0,269.9L314.0,268.9L315.0,267.8L315.9,266.8L316.9,265.8L317.9,264.8L319.0,263.8L320.1,262.8L321.1,261.9L322.2,261.0L323.2,260.2L324.4,259.4L325.5,258.5L326.8,257.7L328.0,257.0L329.3,256.4L330.5,255.8L331.9,255.3L333.6,254.7L335.5,254.3L337.3,254.0L339.2,253.8L341.0,253.7L342.9,253.7L344.7,253.7L346.6,253.8L348.5,253.9L350.3,254.1L352.2,254.4L353.9,254.7L355.5,255.1L357.0,255.5L358.5,255.9L360.0,256.4L361.5,257.0L362.9,257.6L364.4,258.2L365.9,258.9L367.4,259.6L368.8,260.3L370.1,260.9L371.4,261.5L372.6,262.1L373.8,262.7L375.1,263.3L376.3,264.0L377.6,264.7L378.8,265.5L380.0,266.2L381.3,267.0L382.5,267.8L383.7,268.6L384.8,269.4L385.9,270.1L386.9,270.9L388.0,271.7L389.1,272.5L390.1,273.3L391.2,274.2L392.2,275.2L393.3,276.2L394.4,277.2L395.4,278.3L396.5,279.4L397.6,280.5L398.6,281.6L399.5,282.7L400.5,283.7L401.4,284.7L402.3,285.8L403.3,286.8L404.2,287.9L405.1,289.0L406.0,290.0L407.0,291.1L407.9,292.1L408.8,293.2L409.8,294.2L410.7,295.2L411.6,296.3L412.5,297.3L413.5,298.4L414.4,299.4L415.3,300.5L416.3,301.6L417.2,302.6L418.1,303.7L419.1,304.7L420.0,305.7L420.9,306.8L422.0,307.8L423.0,308.9L424.1,310.0L425.2,311.0L426.2,312.1L427.3,313.1L428.3,314.2L429.4,315.3L430.5,316.3L431.5,317.4L432.6,318.5L433.6,319.6L434.7,320.6L435.8,321.6L436.8,322.5L437.9,323.3L439.0,324.1L440.0,324.8L441.1,325.6L442.1,326.4L443.2,327.2L444.3,328.0L445.3,328.9L446.4,329.8L447.4,330.7L448.5,331.7L449.6,332.7L450.6,333.6L451.5,334.6L452.4,335.5L453.3,336.4L454.1,337.4L455.0,338.4L456.0,339.6L456.9,340.7L457.8,341.8L458.7,342.8L459.7,343.9L460.6,345.0L461.5,346.1L462.4,347.2L463.3,348.3L464.2,349.4L465.1,350.5L466.0,351.6L466.9,352.7L467.8,353.9L468.6,355.0L469.4,356.2L470.3,357.3L471.1,358.5L471.8,359.7L472.5,360.9L473.1,362.1L473.6,363.4L474.3,364.6L474.9,366.0L475.5,367.4L476.1,368.7L476.8,370.2L477.4,371.7L478.0,373.1L478.6,374.6L479.2,376.1L479.9,377.6L480.5,379.0L481.1,380.4L481.7,381.7L482.3,383.0L483.0,384.3L483.6,385.6L484.2,387.0L484.8,388.3L485.4,389.7L486.0,391.1L486.6,392.4L487.2,393.8L487.7,395.2L488.3,396.6L488.8,398.0L489.4,399.4L489.9,400.8L490.5,402.3L491.1,403.6L491.6,405.1L492.2,406.5L492.9,408.0L493.5,409.5L494.1,411.0L494.7,412.5L495.3,413.9L496.0,415.3L496.6,416.7L497.2,418.0L497.9,419.4L498.6,420.8L499.3,422.0L500.0,423.3L500.7,424.5L501.4,425.8L502.1,427.0L502.8,428.3L503.5,429.5L504.2,430.9L504.9,432.2L505.6,433.4L506.3,434.7L507.0,436.0L507.7,437.2L508.4,438.4L509.1,439.6L509.8,440.8L510.5,442.0L511.2,443.2L511.9,444.4L512.7,445.6L513.4,446.8L514.1,448.1L514.8,449.4L515.5,450.7L516.2,452.0L516.9,453.3L517.6,454.5L518.3,455.7L519.1,456.9L519.9,458.1L520.7,459.2L521.5,460.3L522.3,461.3L523.1,462.3L523.9,463.2L525.0,464.2L526.0,465.2L527.1,466.1L528.2,467.0L529.4,467.8L530.6,468.5L531.8,469.2L533.1,469.9L534.3,470.5L535.6,471.0L537.0,471.5L538.8,472.1L540.7,472.5L542.5,472.8L544.4,473.0L546.3,473.0L548.1,472.8L549.8,472.4L551.2,472.0L552.6,471.4L554.0,470.8L555.4,470.3L556.8,469.7L558.3,469.2L559.8,468.7L561.4,468.2L563.0,467.8L564.7,467.4L566.6,467.1L568.5,466.8L570.3,466.5L572.2,466.3L574.0,466.2L575.9,466.1L577.7,465.9L579.6,465.8L581.5,465.6L583.3,465.5L585.2,465.4L587.0,465.4L588.9,465.4L590.8,465.5L592.6,465.6L594.5,465.7L596.3,465.8L598.2,466.0L600.0,466.1L601.9,466.3L603.8,466.5L605.6,466.6L607.5,466.9L609.3,467.2L611.2,467.6L613.0,468.0L614.8,468.3L616.4,468.7L617.9,469.1L619.4,469.5L620.8,469.8L622.3,470.2L623.8,470.6L625.3,471.0L626.8,471.4L628.3,471.8L629.9,472.1L631.7,472.4L633.6,472.7L635.4,472.9L637.3,473.0L639.1,473.0L641.0,472.8L642.7,472.4L644.2,471.9L645.6,471.3L646.9,470.5L648.3,469.7L649.5,468.9L650.6,468.1L651.7,467.1L652.8,466.1L653.8,465.1L654.7,464.1L655.5,463.1L656.3,462.1L657.1,461.0L657.9,459.9L658.7,458.8L659.5,457.6L660.3,456.4L661.1,455.1L661.9,453.8L662.7,452.5L663.5,451.1L664.3,449.7L665.0,448.3L665.8,447.0L666.5,445.6L667.2,444.2L668.0,442.7L668.7,441.3L669.4,439.9L670.0,438.5L670.6,437.1L671.2,435.8L671.7,434.6L672.1,433.5L672.5,432.3L673.0,431.0L673.6,429.7L674.3,428.3L674.9,427.0L675.5,425.6L676.1,424.3L676.8,422.9L677.4,421.6L678.1,420.2L678.8,418.8L679.5,417.4L680.1,416.0L680.8,414.6L681.4,413.1L682.0,411.7L682.6,410.2L683.2,408.7L683.8,407.3L684.3,405.8L684.8,404.3L685.2,402.7L685.7,401.2L686.1,399.7L686.5,398.1L687.0,396.5L687.4,395.0L687.8,393.4L688.3,391.8L688.7,390.2L689.2,388.7L689.6,387.1L690.0,385.5L690.4,383.9L690.9,382.3L691.3,380.7L691.7,379.1L692.2,377.5L692.6,375.9L693.0,374.4L693.4,372.8L693.9,371.3L694.3,369.7L694.8,368.1L695.3,366.5L695.7,365.0L696.2,363.4L696.7,361.9L697.1,360.4L697.6,358.9L698.1,357.3L698.5,355.8L699.0,354.3L699.4,352.7L699.9,351.2L700.4,349.6L700.9,348.0L701.3,346.5L701.8,344.9L702.3,343.3L702.8,341.8L703.2,340.2L703.7,338.7L704.1,337.1L704.6,335.6L705.0,334.1L705.5,332.6L705.9,331.0L706.3,329.4L706.7,327.9L707.1,326.4L707.5,324.9L707.9,323.4L708.4,321.9L708.8,320.4L709.3,319.0L709.7,317.5L710.2,316.1L710.7,314.7L711.2,313.2L711.7,311.8L712.2,310.4L712.7,309.0L713.2,307.5L713.7,306.1L714.2,304.6L714.7,303.1L715.1,301.6L715.6,300.1L716.0,298.6L716.5,297.1L716.9,295.6L717.3,294.0L717.7,292.4L718.1,290.8L718.5,289.2L718.9,287.5L719.3,285.9L719.7,284.2L720.1,282.5L720.5,280.8L720.9,279.2L721.2,277.6L721.6,276.0L722.0,274.4L722.4,272.8L722.7,271.2L723.1,269.6L723.5,267.9L723.8,266.3L724.2,264.6L724.6,263.0L725.0,261.4L725.3,259.8L725.7,258.2L726.1,256.6L726.4,255.0L726.8,253.4L727.2,251.7L727.6,250.1L728.0,248.5L728.4,246.8L728.8,245.2L729.2,243.6L729.6,242.1L730.0,240.5L730.4,238.9L730.8,237.4L731.2,235.8L731.6,234.3L732.0,232.7L732.5,231.1L732.9,229.4L733.4,227.7L733.8,226.0L734.3,224.3L734.7,222.6L735.2,221.0L735.6,219.5L736.0,218.0L736.4,216.4L736.9,214.9L737.3,213.4L737.7,211.9L738.0,210.4L738.4,209.0L738.8,207.5L739.2,206.0L739.6,204.6L740.0,203.1L740.3,201.6L740.7,200.2L741.1,198.7L741.5,197.2L741.9,195.7L742.3,194.3L742.7,192.7L743.2,191.1L743.6,189.5L744.1,187.9L744.6,186.3L745.0,184.7L745.5,183.2L746.0,181.6L746.5,180.1L747.0,178.5L747.5,176.9L748.0,175.4L748.5,173.8L749.0,172.3L749.6,170.8L750.1,169.4L750.6,168.0L751.2,166.4L751.8,164.8L752.5,163.3L753.1,161.8L753.7,160.4L754.3,159.0L754.9,157.6L755.5,156.3L756.2,154.9L757.0,153.5L757.8,152.0L758.6,150.6L759.4,149.3L760.1,148.0L760.9,146.8L761.8,145.7L762.9,144.4L764.0,143.2L765.1,142.2L766.2,141.3L767.4,140.5L768.7,139.9L770.1,139.3L771.5,139.0L773.0,138.9L774.7,139.1L776.6,139.5L778.3,140.1L779.8,140.8L781.1,141.4L782.5,142.2L783.9,142.9L785.2,143.5L786.4,144.0L787.6,144.6L788.9,145.2L790.2,145.9L791.4,146.7L792.5,147.4L793.6,148.2L794.6,149.1L795.7,150.0L796.8,151.0L797.8,152.1L798.9,153.1L799.8,154.2L800.8,155.3L801.8,156.5L802.7,157.6L803.7,158.8L804.6,160.1L805.5,161.3L806.3,162.5L807.2,163.7L808.0,165.0L808.8,166.2L809.6,167.5L810.4,168.8L811.1,170.2L811.9,171.7L812.5,173.0L813.1,174.4L813.8,175.8L814.4,177.3L815.0,178.8L815.6,180.3L816.2,181.8L816.9,183.3L817.5,184.7L818.1,186.2L818.7,187.6L819.3,189.0L819.9,190.4L820.6,191.9L821.2,193.3L821.8,194.8L822.4,196.3L823.0,197.7L823.5,199.2L824.1,200.7L824.7,202.1L825.3,203.6L825.8,205.1L826.4,206.6L827.0,208.0L827.6,209.5L828.2,210.9L828.8,212.4L829.4,213.8L830.1,215.2L830.7,216.7L831.4,218.1L832.1,219.4L832.8,220.7L833.5,222.1L834.2,223.4L834.9,224.8L835.6,226.3L836.3,227.7L837.0,229.1L837.7,230.5L838.4,231.9L839.1,233.3L839.8,234.6L840.6,236.0L841.4,237.4L842.2,238.8L842.9,240.1L843.7,241.4L844.5,242.7L845.3,243.9L846.1,245.0L846.9,246.1L847.7,247.2L848.5,248.2L849.3,249.2L850.1,250.3L850.9,251.3L851.6,252.3L852.3,253.2L853.0,254.0L853.7,255.0L854.5,256.0L855.4,257.2L856.2,258.4L857.0,259.6L857.8,260.7L858.6,261.9L859.4,263.1L860.2,264.3L861.0,265.5L861.9,266.7L862.7,267.9L863.5,269.1L864.4,270.4L865.2,271.6L866.0,272.8L866.9,274.0L867.8,275.2L868.6,276.4L869.5,277.7L870.5,278.9L871.4,280.0L872.2,281.0L873.1,282.1L874.0,283.1L874.9,284.2L875.8,285.2L876.7,286.3L877.6,287.3L878.6,288.3L879.5,289.4L880.4,290.4L881.4,291.4L882.3,292.5L883.2,293.6L884.2,294.8L885.1,295.9L886.0,297.1L886.9,298.3L887.9,299.5L888.8,300.6L889.7,301.8L890.7,303.0L891.6,304.1L892.5,305.3L893.4,306.5L894.4,307.7L895.3,308.8L896.2,310.0L897.2,311.1L898.1,312.2L899.0,313.2L899.9,314.2L900.9,315.3L901.8,316.3L902.7,317.3L903.7,318.4L904.6,319.5L905.5,320.6L906.4,321.7L907.4,322.9L908.3,324.1L909.2,325.3L910.2,326.5L911.1,327.6L912.0,328.7L912.9,329.8L913.9,330.9L914.8,331.9L915.7,333.0L916.7,334.0L917.6,335.0L918.5,336.1L919.4,337.1L920.4,338.1L921.3,339.2L922.2,340.2L923.2,341.3L924.1,342.3L925.0,343.4L925.9,344.4L926.9,345.5L927.8,346.6L928.8,347.6L929.8,348.7L930.7,349.8L931.7,350.8L932.7,351.7L933.8,352.7L934.9,353.5L936.0,354.4L937.2,355.2L938.3,356.0L939.5,356.7L940.6,357.6L941.8,358.4L942.9,359.3L944.0,360.2L945.1,361.1L946.2,362.0L947.3,363.0L948.4,363.8L949.4,364.6L950.5,365.4L951.6,366.2L952.6,367.0L953.7,367.8L954.7,368.6L955.8,369.5L956.9,370.4L957.9,371.3L959.0,372.2L960.1,373.2L961.1,374.1L962.2,375.1L963.2,376.0L964.3,377.0L965.4,377.9L966.4,378.9L967.5,379.8L968.5,380.7L969.6,381.6L970.7,382.4L971.7,383.2L972.8,384.0L973.9,384.8L974.9,385.6L976.0,386.4L977.1,387.2L978.3,388.0L979.5,388.9L980.8,389.8L982.0,390.7L983.2,391.5L984.5,392.4L985.7,393.2L986.9,394.0L988.2,394.7L989.4,395.5L990.7,396.3L991.9,397.0L993.1,397.7L994.4,398.4L995.6,399.1L996.9,399.8L998.1,400.4L999.3,401.1L1000.6,401.7L1001.8,402.4L1003.0,403.0L1004.3,403.6L1005.5,404.2L1006.8,404.8L1008.2,405.5L1009.7,406.1L1011.2,406.8L1012.7,407.4L1014.2,407.9L1015.7,408.5L1017.2,409.0L1018.6,409.5L1020.1,409.9L1021.6,410.4L1023.1,410.8L1024.6,411.3L1026.1,411.7L1027.6,412.2L1029.1,412.6L1030.5,413.0L1032.0,413.4L1033.5,413.7L1035.0,414.1L1036.5,414.5L1038.0,414.8L1039.5,415.2L1040.9,415.6L1042.4,415.9L1043.9,416.3L1045.4,416.7L1046.9,417.1L1048.4,417.4L1049.9,417.8L1051.3,418.2L1052.8,418.5L1054.3,418.9L1055.8,419.3L1057.3,419.7L1058.8,420.0L1060.3,420.4L1061.7,420.8L1063.2,421.2L1064.7,421.5L1066.2,421.9L1067.6,422.2L1069.1,422.5L1070.6,422.8L1072.1,423.1L1073.7,423.4L1075.4,423.7L1077.0,423.9L1078.7,424.2L1080.5,424.4L1082.2,424.7L1083.9,424.9L1085.7,425.2L1087.4,425.5L1089.0,425.8L1090.7,426.0L1092.3,426.4L1093.9,426.7L1095.5,427.0L1097.1,427.3L1099.0,427.5L1100.9,427.8L1102.8,428.0L1104.8,428.2L1106.7,428.4L1108.5,428.6L1110.2,428.7L1112.0,428.8L1114.0,428.8L1116.2,428.9L1118.2,428.9L1120.4,428.9L1122.8,428.9L1125.2,428.9L1127.5,428.9L1129.7,428.9L1131.4,428.9L1132.9,428.9L1132.9,428.9L1131.4,428.9L1129.7,428.9L1127.5,428.9L1125.2,428.9L1122.8,428.9L1120.4,428.9L1118.2,428.9L1116.2,428.9L1114.0,428.9L1112.0,428.9L1110.2,428.9L1108.5,428.9L1106.6,428.9L1104.7,428.8L1102.8,428.8L1100.9,428.8L1099.0,428.7L1097.1,428.7L1095.2,428.6L1093.3,428.6L1091.4,428.5L1089.4,428.4L1087.5,428.4L1085.5,428.3L1083.5,428.3L1081.5,428.2L1079.5,428.2L1077.5,428.1L1075.5,428.1L1073.5,428.0L1071.6,428.0L1069.6,427.9L1067.9,427.8L1066.1,427.7L1064.3,427.7L1062.5,427.6L1060.5,427.5L1058.7,427.4L1056.8,427.4L1055.0,427.3L1053.1,427.2L1051.2,427.1L1049.4,427.0L1047.6,426.9L1045.8,426.8L1043.9,426.6L1042.1,426.5L1040.2,426.4L1038.3,426.2L1036.5,426.1L1034.6,425.9L1032.8,425.8L1030.9,425.6L1029.1,425.4L1027.2,425.3L1025.3,425.0L1023.5,424.8L1021.6,424.6L1019.8,424.4L1017.9,424.1L1016.0,423.9L1014.2,423.6L1012.3,423.3L1010.5,423.0L1008.6,422.7L1006.8,422.4L1004.9,422.0L1003.0,421.7L1001.2,421.3L999.3,421.0L997.5,420.6L995.6,420.2L993.8,419.8L991.9,419.5L990.0,419.1L988.2,418.7L986.3,418.4L984.5,418.0L982.6,417.6L980.8,417.3L979.3,416.9L977.8,416.5L976.3,416.2L974.8,415.8L973.3,415.4L971.8,415.0L970.3,414.5L968.9,414.1L967.4,413.6L965.9,413.2L964.4,412.6L962.9,412.1L961.4,411.6L959.9,411.0L958.5,410.4L957.0,409.7L955.5,409.1L954.0,408.4L952.5,407.7L951.1,407.1L949.8,406.4L948.6,405.7L947.3,405.1L946.1,404.4L944.8,403.7L943.6,402.9L942.4,402.2L941.1,401.4L939.9,400.7L938.6,399.9L937.4,399.1L936.2,398.3L934.9,397.5L933.7,396.8L932.5,396.0L931.2,395.2L930.0,394.4L928.7,393.7L927.5,392.9L926.3,392.1L925.0,391.3L923.8,390.6L922.5,389.8L921.3,389.0L920.1,388.3L918.8,387.5L917.6,386.8L916.4,386.0L915.1,385.2L913.9,384.4L912.8,383.5L911.7,382.6L910.6,381.7L909.5,380.7L908.4,379.8L907.4,378.8L906.4,377.8L905.4,376.8L904.5,375.7L903.5,374.7L902.7,373.6L901.8,372.5L900.9,371.4L900.1,370.3L899.3,369.2L898.4,368.2L897.6,367.1L896.7,366.1L895.9,365.1L894.9,364.1L894.0,363.2L893.0,362.2L892.1,361.3L891.1,360.3L890.2,359.3L889.2,358.3L888.3,357.3L887.4,356.2L886.5,355.1L885.7,353.9L884.8,352.8L884.0,351.6L883.1,350.4L882.3,349.2L881.5,348.0L880.6,346.8L879.8,345.6L879.0,344.4L878.2,343.2L877.3,341.9L876.5,340.6L875.7,339.3L874.9,338.0L874.1,336.8L873.4,335.6L872.7,334.3L872.0,333.0L871.2,331.7L870.5,330.4L869.8,329.1L869.0,327.8L868.2,326.5L867.5,325.2L866.7,323.9L865.9,322.7L865.1,321.4L864.4,320.2L863.6,318.9L862.8,317.7L862.0,316.5L861.2,315.3L860.5,314.1L859.7,312.8L858.9,311.6L858.1,310.4L857.3,309.1L856.5,307.8L855.7,306.5L855.0,305.3L854.3,304.1L853.5,302.8L852.8,301.5L852.1,300.2L851.4,298.8L850.8,297.5L850.1,296.1L849.4,294.7L848.7,293.3L848.0,291.8L847.2,290.4L846.5,289.1L845.8,287.8L845.1,286.5L844.4,285.2L843.6,283.9L842.8,282.5L842.1,281.2L841.3,279.9L840.5,278.6L839.8,277.3L839.0,276.1L838.3,274.8L837.5,273.6L836.8,272.3L836.0,271.1L835.3,269.9L834.6,268.7L833.8,267.5L833.1,266.4L832.3,265.2L831.5,264.0L830.7,262.8L829.9,261.6L829.0,260.5L828.2,259.3L827.4,258.2L826.6,257.1L825.7,256.1L824.9,255.0L824.0,253.9L823.0,252.8L822.1,251.7L821.2,250.6L820.3,249.6L819.3,248.6L818.4,247.6L817.4,246.6L816.4,245.6L815.3,244.6L814.3,243.7L813.2,242.7L812.2,241.8L811.1,241.0L810.0,240.1L808.8,239.3L807.6,238.5L806.3,237.7L805.1,236.9L803.8,236.2L802.6,235.5L801.4,234.8L800.1,234.2L798.9,233.5L797.7,232.9L796.4,232.3L795.1,231.8L793.7,231.3L792.2,230.8L790.7,230.3L789.2,229.9L787.7,229.6L785.9,229.2L784.0,228.9L782.2,228.6L780.3,228.5L778.4,228.3L776.5,228.3L774.6,228.3L772.9,228.5L771.4,228.9L770.0,229.4L768.7,230.1L767.4,230.8L766.2,231.6L765.1,232.4L764.0,233.3L762.9,234.4L761.8,235.5L760.9,236.5L760.1,237.6L759.4,238.7L758.6,239.9L757.8,241.2L757.0,242.5L756.2,243.8L755.5,245.1L754.8,246.4L754.1,247.7L753.4,249.1L752.7,250.5L752.0,251.9L751.3,253.4L750.6,255.0L750.0,256.4L749.5,257.7L748.9,259.2L748.4,260.6L747.8,262.1L747.2,263.6L746.7,265.2L746.1,266.7L745.6,268.3L745.0,269.8L744.5,271.3L744.0,272.8L743.5,274.3L743.0,275.7L742.5,277.3L742.0,278.8L741.5,280.3L741.0,281.9L740.5,283.4L740.0,285.0L739.5,286.6L739.0,288.1L738.5,289.6L738.0,291.2L737.6,292.8L737.1,294.3L736.6,295.9L736.1,297.5L735.7,299.1L735.2,300.7L734.8,302.2L734.3,303.8L733.8,305.3L733.4,306.9L732.9,308.5L732.4,310.0L732.0,311.6L731.5,313.2L731.1,314.7L730.6,316.3L730.1,317.9L729.7,319.4L729.2,321.0L728.7,322.6L728.3,324.1L727.8,325.7L727.3,327.2L726.9,328.8L726.4,330.4L725.9,332.0L725.4,333.6L724.9,335.1L724.5,336.7L724.0,338.2L723.6,339.7L723.1,341.3L722.7,342.9L722.3,344.4L721.8,345.9L721.4,347.4L721.0,348.9L720.6,350.4L720.2,351.9L719.8,353.4L719.4,354.9L719.0,356.4L718.5,358.0L718.1,359.5L717.7,361.0L717.3,362.4L716.9,363.9L716.5,365.4L716.1,366.9L715.6,368.5L715.2,370.0L714.8,371.6L714.3,373.1L713.9,374.7L713.4,376.2L713.0,377.7L712.5,379.2L712.1,380.8L711.6,382.3L711.1,383.9L710.6,385.5L710.2,387.1L709.7,388.6L709.2,390.2L708.7,391.7L708.3,393.3L707.8,394.9L707.3,396.4L706.9,398.0L706.4,399.6L705.9,401.1L705.5,402.7L705.0,404.3L704.6,405.8L704.1,407.3L703.6,408.8L703.2,410.3L702.7,411.8L702.2,413.2L701.7,414.5L701.3,415.7L700.8,417.0L700.3,418.3L699.8,419.6L699.3,421.2L698.8,422.9L698.2,424.9L697.7,426.8L697.3,428.3L696.9,429.7L696.6,431.3L696.2,432.9L695.8,434.6L695.4,436.3L695.1,438.0L694.7,439.7L694.3,441.5L693.9,443.3L693.5,445.1L693.1,446.9L692.7,448.7L692.3,450.5L691.9,452.2L691.5,453.9L691.1,455.6L690.7,457.3L690.3,458.9L689.9,460.5L689.6,461.9L689.1,463.4L688.6,465.2L687.9,467.0L687.3,468.7L686.7,470.2L686.0,471.6L685.4,472.8L684.8,474.0L684.2,475.2L683.6,476.3L683.0,477.4L682.4,478.6L681.8,479.9L681.1,481.3L680.4,482.7L679.8,484.1L679.1,485.5L678.4,486.9L677.7,488.2L677.0,489.5L676.4,490.9L675.7,492.2L675.0,493.5L674.3,494.8L673.6,496.1L672.9,497.5L672.1,498.8L671.4,500.2L670.6,501.5L669.9,502.8L669.1,504.0L668.4,505.3L667.7,506.5L666.9,507.8L666.1,509.1L665.3,510.4L664.5,511.7L663.7,513.0L662.8,514.2L662.0,515.4L661.0,516.5L660.1,517.7L659.1,518.8L658.1,519.9L657.0,520.9L655.9,521.9L654.7,522.9L653.5,523.8L652.3,524.7L651.0,525.6L649.7,526.4L648.4,527.1L647.0,527.8L645.6,528.5L644.1,529.1L642.7,529.8L640.9,530.1L639.1,530.4L637.2,530.5L635.3,530.5L633.5,530.5L631.6,530.3L629.8,530.1L628.0,529.8L626.4,529.4L624.9,528.9L623.4,528.4L622.0,527.9L620.5,527.4L619.0,526.8L617.5,526.3L616.0,525.7L614.5,525.1L613.0,524.6L611.6,524.0L610.1,523.5L608.6,522.9L607.1,522.3L605.6,521.8L604.1,521.3L602.6,520.7L601.2,520.2L599.7,519.8L598.1,519.4L596.3,519.1L594.5,518.8L592.6,518.7L590.8,518.7L588.9,518.7L587.0,518.9L585.2,519.1L583.3,519.4L581.5,519.7L579.6,520.1L577.7,520.5L576.0,520.9L574.4,521.2L572.9,521.6L571.4,522.0L569.9,522.3L568.5,522.7L567.0,523.1L565.5,523.5L564.0,523.8L562.5,524.2L561.0,524.6L559.5,525.0L558.1,525.4L556.6,525.8L554.9,526.0L553.2,526.2L551.5,526.5L549.7,526.6L548.0,526.8L546.2,526.9L544.4,527.0L542.6,527.0L540.8,527.0L539.0,526.9L537.3,526.7L535.7,526.4L534.1,526.1L532.6,525.7L531.1,525.3L529.7,524.8L528.3,524.2L527.0,523.7L525.7,523.1L524.5,522.4L523.3,521.6L522.1,520.8L520.9,519.8L519.8,518.9L518.7,517.8L517.6,516.7L516.6,515.5L515.6,514.4L514.6,513.3L513.7,512.3L512.9,511.3L512.1,510.2L511.3,509.2L510.5,508.1L509.8,507.0L509.0,505.9L508.2,504.7L507.4,503.4L506.6,502.1L505.8,500.8L505.0,499.4L504.2,498.0L503.5,496.6L502.7,495.3L502.0,494.0L501.3,492.6L500.7,491.2L500.0,489.8L499.3,488.3L498.6,486.9L497.9,485.5L497.2,484.1L496.6,482.8L496.0,481.5L495.4,480.1L494.8,478.8L494.2,477.4L493.5,476.1L492.9,474.7L492.3,473.4L491.7,472.1L491.1,471.0L490.6,469.9L490.1,468.8L489.5,467.6L488.9,466.4L488.2,464.9L487.5,463.2L486.8,461.5L486.3,460.1L485.7,458.7L485.2,457.3L484.6,455.8L484.1,454.3L483.5,452.8L482.9,451.3L482.3,449.7L481.7,448.1L481.1,446.5L480.6,444.9L480.0,443.3L479.4,441.8L478.8,440.3L478.3,438.8L477.7,437.4L477.2,435.9L476.7,434.5L476.0,432.8L475.3,431.0L474.7,429.5L474.1,428.2L473.5,426.9L473.0,425.7L472.5,424.5L471.8,423.2L471.2,421.8L470.6,420.4L469.9,419.1L469.3,417.8L468.6,416.4L467.9,415.0L467.2,413.6L466.5,412.2L465.8,410.9L465.1,409.5L464.4,408.2L463.7,406.9L463.0,405.5L462.3,404.2L461.5,402.9L460.8,401.6L460.0,400.3L459.3,399.1L458.6,397.8L457.8,396.5L457.1,395.2L456.3,393.9L455.6,392.6L455.0,391.4L454.3,390.1L453.6,388.8L452.9,387.5L452.3,386.2L451.6,384.9L450.9,383.6L450.2,382.4L449.6,381.1L448.9,379.9L448.1,378.7L447.4,377.4L446.7,376.1L445.9,374.9L445.2,373.7L444.4,372.5L443.7,371.3L442.9,370.1L442.2,369.0L441.4,367.8L440.6,366.6L439.8,365.4L439.0,364.2L438.2,363.0L437.3,361.8L436.5,360.7L435.7,359.6L434.9,358.6L434.0,357.6L432.9,356.5L431.9,355.6L430.8,354.7L429.8,353.8L428.7,352.9L427.7,352.0L426.7,351.1L425.7,350.2L424.7,349.3L423.8,348.4L422.8,347.6L421.8,346.7L420.8,345.9L419.8,345.1L418.8,344.2L417.7,343.4L416.7,342.6L415.6,341.8L414.6,341.0L413.5,340.2L412.4,339.3L411.4,338.4L410.3,337.4L409.2,336.4L408.2,335.5L407.1,334.6L406.0,333.7L405.0,332.8L403.9,332.0L402.9,331.3L401.8,330.5L400.7,329.7L399.7,328.9L398.6,328.1L397.6,327.2L396.5,326.3L395.4,325.4L394.4,324.5L393.3,323.5L392.2,322.6L391.2,321.6L390.1,320.6L389.1,319.5L388.0,318.5L386.9,317.4L385.9,316.3L384.8,315.2L383.8,314.2L382.7,313.1L381.6,312.0L380.6,310.9L379.5,309.9L378.4,308.8L377.4,307.8L376.3,306.7L375.3,305.7L374.2,304.8L373.1,303.8L372.1,302.9L371.0,301.9L370.0,301.1L368.8,300.2L367.7,299.4L366.4,298.5L365.2,297.8L363.9,297.0L362.7,296.3L361.5,295.6L360.2,294.9L359.0,294.2L357.7,293.5L356.5,292.9L355.3,292.4L353.9,291.9L352.2,291.3L350.3,290.9L348.5,290.6L346.6,290.4L344.7,290.5L342.9,290.6L341.0,290.9L339.3,291.3L337.6,291.7L336.1,292.1L334.6,292.6L333.1,293.2L331.8,293.7L330.6,294.4L329.5,295.0L328.4,295.7L327.3,296.5L326.2,297.4L325.2,298.2L324.2,299.1L323.1,300.0L322.0,300.9L320.9,301.9L319.8,302.9L318.8,303.9L317.8,304.9L316.9,305.9L315.9,306.9L315.0,308.0L314.1,309.0L313.2,310.1L312.2,311.2L311.3,312.3L310.4,313.4L309.4,314.5L308.5,315.6L307.6,316.8L306.7,317.9L305.7,319.1L304.8,320.4L303.9,321.6L303.0,322.8L302.2,323.9L301.4,325.1L300.6,326.3L299.7,327.6L298.9,328.8L298.1,330.1L297.3,331.4L296.5,332.7L295.7,334.0L294.9,335.4L294.1,336.9L293.3,338.2L292.5,339.6L291.8,340.8L290.9,342.1L290.1,343.2L289.3,344.3L288.4,345.3L287.5,346.2L286.6,347.1L285.7,348.0L284.8,348.9L283.9,349.9L283.1,351.0L282.3,352.1L281.5,353.3L280.7,354.5L280.0,355.8L279.2,357.1L278.4,358.4L277.6,359.7L276.9,361.0L276.1,362.3L275.4,363.6L274.7,364.9L273.9,366.2L273.2,367.5L272.4,368.9L271.7,370.2L270.9,371.5L270.2,372.7L269.4,374.0L268.7,375.2L268.0,376.5L267.2,377.7L266.5,378.9L265.7,380.1L265.0,381.3L264.2,382.5L263.5,383.7L262.7,384.8L261.9,386.0L261.1,387.2L260.3,388.4L259.5,389.6L258.6,390.7L257.8,391.8L257.0,392.9L256.2,394.0L255.3,395.0L254.4,396.2L253.5,397.3L252.5,398.3L251.6,399.4L250.7,400.4L249.8,401.4L248.8,402.4L247.9,403.4L246.8,404.5L245.8,405.6L244.7,406.7L243.7,407.8L242.6,408.8L241.5,409.8L240.5,410.8L239.4,411.7L238.4,412.6L237.4,413.4L236.3,414.2L235.3,414.9L234.2,415.7L233.0,416.4L231.8,417.1L230.5,417.7L229.2,418.3L227.8,418.9L226.5,419.5L225.1,420.0L223.7,420.5L222.2,421.0L220.7,421.4L219.2,421.8L217.7,422.2L216.1,422.5L214.5,422.9L213.0,423.2L211.5,423.5L210.0,423.8L208.4,424.0L206.8,424.3L205.1,424.5L203.3,424.7L201.6,424.9L199.8,425.1L197.8,425.2L195.9,425.4L193.9,425.5L192.0,425.6L190.2,425.7L188.4,425.9L186.5,426.0L184.7,426.1L183.0,426.2L181.3,426.4L179.4,426.5L177.5,426.6L175.7,426.7L174.0,426.8L172.3,426.9L170.5,427.0L168.6,427.1L166.6,427.2L164.4,427.3L162.1,427.4L159.9,427.5L158.0,427.6L156.4,427.7L154.6,427.8L152.7,427.8L150.8,427.9L148.9,428.0L146.9,428.1L144.9,428.2L142.8,428.2L140.8,428.3L138.8,428.4L136.7,428.5L134.8,428.5L132.8,428.6L130.8,428.6L128.8,428.7L126.6,428.7L124.3,428.8L122.0,428.8L119.7,428.8L117.4,428.9L115.2,428.9L113.0,428.9L110.9,428.9L108.9,429.0L107.2,429.0L105.6,429.0L104.2,429.0L103.0,429.0Z" fill="#4c72b0" fill-opacity="0.15" stroke="#4c72b0" stroke-opacity="0.2" stroke-width="1.2"/>
<path d="M103.2,428.9H1133.0" stroke="#000" stroke-width="2"/>
<path d="M103.0,429.0L104.2,429.0L105.7,429.0L107.3,429.0L109.2,429.0L111.3,428.9L113.5,428.9L115.8,428.9L118.1,428.9L120.4,428.8L122.7,428.8L125.0,428.8L127.1,428.7L129.0,428.7L131.0,428.6L133.1,428.6L135.3,428.5L137.4,428.4L139.3,428.3L141.2,428.2L143.0,428.1L144.8,428.0L146.4,427.9L147.9,427.8L149.6,427.7L151.4,427.6L153.1,427.4L154.6,427.3L156.1,427.1L157.7,427.0L159.5,426.8L161.2,426.7L162.9,426.5L164.6,426.4L166.5,426.2L168.4,426.1L170.4,425.9L172.2,425.7L174.0,425.6L175.7,425.4L177.5,425.3L179.4,425.1L181.3,424.9L183.0,424.8L184.7,424.6L186.5,424.4L188.3,424.2L190.0,424.0L191.7,423.7L193.4,423.5L195.2,423.2L197.0,423.0L198.8,422.7L200.4,422.4L201.9,422.2L203.6,421.9L205.6,421.6L207.5,421.2L209.1,420.9L210.7,420.5L212.1,420.1L213.5,419.6L214.8,419.2L216.2,418.6L217.6,418.1L218.9,417.4L220.3,416.8L221.6,416.1L223.0,415.4L224.3,414.7L225.6,414.0L226.9,413.2L228.2,412.5L229.5,411.8L230.7,411.1L231.9,410.3L233.0,409.4L234.1,408.6L235.2,407.7L236.3,406.7L237.4,405.7L238.5,404.7L239.5,403.8L240.5,403.0L241.4,402.1L242.4,401.2L243.4,400.2L244.3,399.2L245.3,398.2L246.2,397.2L247.2,396.2L248.1,395.2L249.0,394.1L249.9,393.0L250.8,391.9L251.7,390.8L252.6,389.6L253.5,388.5L254.4,387.4L255.3,386.3L256.1,385.2L257.0,384.0L257.9,382.9L258.8,381.7L259.7,380.5L260.5,379.3L261.3,378.1L262.1,376.9L262.8,375.7L263.6,374.4L264.3,373.2L265.1,371.9L265.9,370.7L266.6,369.4L267.4,368.1L268.1,366.9L268.8,365.8L269.5,364.6L270.2,363.4L270.9,362.2L271.6,361.0L272.3,359.8L273.0,358.5L273.7,357.3L274.4,356.0L275.1,354.8L275.7,353.5L276.4,352.2L277.0,351.0L277.7,349.7L278.3,348.4L279.0,347.1L279.7,345.8L280.3,344.6L281.0,343.3L281.7,342.0L282.4,340.7L283.1,339.4L283.8,338.1L284.5,336.8L285.3,335.5L286.0,334.2L286.8,332.9L287.5,331.6L288.3,330.3L289.0,329.0L289.8,327.7L290.5,326.4L291.2,325.1L292.0,323.8L292.7,322.5L293.5,321.2L294.2,319.9L295.0,318.6L295.7,317.3L296.4,316.0L297.2,314.8L297.9,313.5L298.7,312.3L299.4,311.0L300.2,309.8L300.9,308.6L301.6,307.4L302.4,306.2L303.1,305.1L303.9,303.9L304.7,302.7L305.5,301.5L306.4,300.3L307.2,299.2L308.0,298.1L308.8,296.9L309.7,295.9L310.5,294.8L311.3,293.7L312.2,292.6L313.2,291.5L314.1,290.4L315.0,289.3L315.9,288.3L316.9,287.3L317.8,286.3L318.8,285.3L319.8,284.3L320.9,283.3L322.0,282.3L323.1,281.4L324.2,280.5L325.2,279.7L326.2,278.8L327.4,278.0L328.5,277.2L329.6,276.4L330.7,275.8L331.8,275.1L333.1,274.4L334.4,273.7L335.8,273.1L337.4,272.6L339.1,272.2L340.9,271.9L342.8,271.7L344.7,271.7L346.6,271.7L348.5,271.8L350.3,272.1L352.1,272.4L353.7,272.7L355.1,273.2L356.6,273.6L358.1,274.2L359.5,274.8L360.8,275.4L362.1,276.0L363.3,276.7L364.6,277.4L365.8,278.1L367.0,278.9L368.3,279.7L369.5,280.5L370.8,281.4L372.0,282.2L373.2,283.2L374.4,284.0L375.5,284.9L376.6,285.7L377.7,286.6L378.7,287.5L379.8,288.3L380.8,289.2L381.9,290.0L383.0,290.8L384.0,291.6L385.1,292.4L386.1,293.2L387.2,293.9L388.3,294.8L389.3,295.6L390.4,296.5L391.5,297.4L392.5,298.3L393.6,299.2L394.6,300.1L395.7,301.1L396.8,302.1L397.8,303.1L398.9,304.2L399.9,305.2L401.0,306.3L402.1,307.4L403.1,308.5L404.2,309.5L405.3,310.6L406.3,311.7L407.4,312.8L408.4,313.8L409.5,314.9L410.6,315.9L411.6,316.9L412.7,317.9L413.7,318.9L414.8,319.8L415.9,320.7L416.9,321.6L418.0,322.5L419.1,323.5L420.1,324.4L421.2,325.3L422.2,326.2L423.3,327.2L424.4,328.1L425.4,329.0L426.5,330.0L427.5,330.9L428.6,331.8L429.7,332.7L430.7,333.6L431.8,334.5L432.9,335.5L433.9,336.5L434.9,337.4L435.9,338.3L436.9,339.1L437.9,340.1L439.0,341.1L439.9,342.3L440.9,343.5L441.8,344.7L442.7,345.9L443.6,347.1L444.4,348.3L445.3,349.5L446.1,350.7L447.0,351.9L447.8,353.2L448.6,354.4L449.5,355.7L450.3,356.9L451.1,358.2L451.9,359.4L452.7,360.6L453.5,361.9L454.3,363.1L455.1,364.4L455.8,365.6L456.6,366.7L457.2,367.9L457.9,369.0L458.6,370.2L459.3,371.3L460.0,372.5L460.8,373.7L461.5,374.9L462.3,376.1L463.0,377.3L463.8,378.5L464.5,379.7L465.2,380.9L466.0,382.1L466.7,383.3L467.5,384.6L468.2,385.8L469.0,387.1L469.7,388.4L470.4,389.7L471.2,391.0L471.9,392.3L472.7,393.6L473.4,394.9L474.2,396.2L474.9,397.6L475.6,398.8L476.3,400.1L476.9,401.3L477.6,402.6L478.3,403.9L479.0,405.1L479.6,406.4L480.3,407.7L481.0,409.0L481.7,410.2L482.3,411.5L483.0,412.8L483.7,414.0L484.3,415.2L485.0,416.4L485.7,417.7L486.3,418.9L487.0,420.1L487.7,421.4L488.4,422.7L489.0,424.1L489.7,425.4L490.3,426.7L491.0,428.1L491.6,429.4L492.3,430.8L492.9,432.2L493.6,433.5L494.2,434.9L494.9,436.3L495.5,437.6L496.1,439.0L496.8,440.4L497.4,441.7L498.1,443.1L498.8,444.5L499.4,445.9L500.1,447.3L500.8,448.7L501.5,450.0L502.1,451.2L502.8,452.5L503.4,453.9L504.1,455.3L504.8,456.7L505.5,458.1L506.2,459.6L506.9,461.0L507.6,462.4L508.3,463.7L509.0,465.1L509.8,466.4L510.6,467.8L511.4,469.2L512.2,470.5L513.0,471.8L513.8,473.0L514.6,474.3L515.4,475.6L516.2,476.8L517.0,478.0L517.8,479.2L518.6,480.4L519.4,481.5L520.2,482.7L521.0,483.8L521.8,484.9L522.5,486.1L523.3,487.1L524.1,488.2L524.9,489.2L525.8,490.2L526.8,491.2L528.0,492.2L529.1,493.1L530.2,494.0L531.4,494.8L532.6,495.5L534.0,496.3L535.4,496.9L536.8,497.5L538.3,498.1L539.8,498.6L541.4,499.1L542.9,499.5L544.4,499.7L546.2,499.8L548.0,499.7L549.7,499.4L551.3,499.0L552.7,498.6L554.3,498.1L555.8,497.7L557.3,497.2L558.8,496.7L560.3,496.2L561.8,495.7L563.3,495.2L564.8,494.7L566.6,494.3L568.5,493.9L570.3,493.6L572.2,493.3L574.0,492.9L575.9,492.6L577.7,492.2L579.6,492.0L581.5,491.8L583.3,491.6L585.2,491.5L587.0,491.4L588.9,491.4L590.8,491.4L592.6,491.5L594.5,491.6L596.3,491.8L598.2,492.1L600.0,492.5L601.8,492.9L603.4,493.2L604.9,493.6L606.4,493.9L607.8,494.3L609.3,494.7L610.8,495.2L612.3,495.7L613.8,496.1L615.3,496.6L616.8,497.2L618.2,497.7L619.7,498.3L621.2,498.9L622.7,499.4L624.2,499.9L625.7,500.4L627.2,500.8L628.8,501.1L630.2,501.4L631.8,501.6L633.6,501.8L635.4,501.9L637.1,501.8L638.6,501.6L640.0,501.3L641.4,500.8L642.7,500.3L643.9,499.7L645.0,499.1L646.1,498.3L647.2,497.5L648.3,496.6L649.3,495.8L650.2,494.9L651.1,494.0L652.1,493.1L653.0,492.1L653.9,491.1L654.7,490.1L655.5,489.1L656.3,488.1L657.1,487.0L657.9,485.9L658.7,484.8L659.5,483.6L660.3,482.4L661.1,481.1L661.9,479.8L662.6,478.5L663.4,477.1L664.2,475.7L665.0,474.4L665.7,473.1L666.3,472.0L667.0,470.8L667.7,469.5L668.3,468.3L669.0,467.0L669.7,465.7L670.3,464.5L671.0,463.2L671.7,461.9L672.4,460.6L673.1,459.3L673.8,458.0L674.5,456.6L675.2,455.3L675.9,453.9L676.6,452.5L677.3,451.1L677.9,449.7L678.6,448.3L679.2,446.9L679.8,445.4L680.5,443.9L681.1,442.4L681.7,441.0L682.2,439.6L682.8,438.4L683.3,437.0L683.9,435.6L684.5,434.2L685.1,432.9L685.6,431.6L686.2,430.3L686.7,428.9L687.2,427.6L687.8,426.2L688.3,424.8L688.8,423.4L689.4,421.9L689.9,420.4L690.5,418.9L691.0,417.4L691.5,415.8L692.0,414.3L692.5,412.8L693.0,411.2L693.5,409.7L693.9,408.2L694.4,406.7L694.8,405.1L695.2,403.5L695.7,401.8L696.1,400.2L696.6,398.6L697.0,396.9L697.5,395.2L698.0,393.6L698.4,392.1L698.8,390.5L699.3,388.9L699.7,387.4L700.2,385.8L700.7,384.2L701.1,382.6L701.6,381.0L702.1,379.3L702.5,377.7L703.0,376.1L703.4,374.5L703.8,372.9L704.3,371.3L704.7,369.7L705.1,368.1L705.5,366.5L705.9,364.8L706.3,363.2L706.7,361.6L707.1,359.9L707.5,358.3L707.9,356.7L708.3,355.1L708.7,353.5L709.1,352.0L709.5,350.5L709.9,349.0L710.3,347.3L710.7,345.6L711.2,344.0L711.6,342.3L712.0,340.7L712.4,339.2L712.9,337.6L713.3,336.1L713.7,334.6L714.1,333.2L714.5,331.8L714.9,330.3L715.4,328.8L715.9,327.2L716.4,325.7L716.9,324.2L717.3,322.9L717.8,321.5L718.2,320.1L718.7,318.7L719.1,317.3L719.6,315.9L720.0,314.4L720.5,313.0L720.9,311.5L721.3,310.0L721.8,308.5L722.2,307.0L722.6,305.5L723.0,303.9L723.4,302.4L723.8,300.9L724.2,299.4L724.6,297.9L725.0,296.3L725.4,294.7L725.8,293.0L726.2,291.4L726.6,289.8L727.0,288.2L727.4,286.6L727.8,285.0L728.1,283.5L728.5,281.9L728.9,280.3L729.3,278.8L729.7,277.2L730.1,275.6L730.5,274.1L730.9,272.5L731.2,271.0L731.6,269.5L732.0,268.0L732.4,266.4L732.9,264.8L733.3,263.3L733.7,261.7L734.1,260.2L734.5,258.7L735.0,257.2L735.4,255.7L735.8,254.2L736.2,252.8L736.7,251.3L737.1,249.8L737.6,248.3L738.0,246.8L738.5,245.3L738.9,243.9L739.4,242.4L739.8,241.0L740.3,239.5L740.8,238.0L741.3,236.5L741.8,235.0L742.3,233.5L742.8,231.9L743.3,230.3L743.8,228.8L744.3,227.2L744.8,225.6L745.3,224.1L745.9,222.6L746.4,221.1L746.9,219.7L747.5,218.1L748.1,216.5L748.8,215.0L749.4,213.6L750.0,212.2L750.6,210.8L751.3,209.4L751.9,208.0L752.5,206.7L753.2,205.4L753.8,204.0L754.5,202.7L755.1,201.4L755.8,200.2L756.5,198.9L757.2,197.6L758.0,196.2L758.7,194.9L759.5,193.5L760.3,192.2L761.0,190.8L761.9,189.6L762.7,188.4L763.8,187.2L764.9,186.1L766.0,185.2L767.1,184.5L768.3,183.8L769.8,183.2L771.4,182.8L773.0,182.6L774.7,182.6L776.2,182.7L777.7,183.0L779.2,183.5L780.7,183.9L782.2,184.4L783.7,184.8L785.1,185.2L786.6,185.6L788.1,186.1L789.5,186.6L790.8,187.1L792.1,187.6L793.3,188.2L794.6,188.8L795.8,189.5L797.0,190.3L798.1,191.0L799.0,191.7L800.0,192.5L801.0,193.3L802.1,194.3L803.2,195.5L804.3,196.7L805.2,197.7L806.0,198.8L806.9,199.8L807.7,201.0L808.7,202.2L809.6,203.5L810.5,204.8L811.4,206.1L812.3,207.4L813.2,208.7L814.0,209.9L814.8,211.2L815.6,212.5L816.4,213.8L817.2,215.0L818.0,216.3L818.7,217.6L819.5,218.9L820.2,220.2L820.9,221.5L821.6,222.8L822.4,224.0L823.1,225.3L823.8,226.6L824.5,227.9L825.3,229.2L826.0,230.5L826.8,231.7L827.5,233.0L828.2,234.3L829.0,235.6L829.7,237.0L830.5,238.3L831.1,239.5L831.8,240.8L832.5,242.1L833.2,243.3L833.9,244.6L834.5,245.9L835.2,247.2L835.9,248.5L836.6,249.7L837.2,251.0L837.9,252.3L838.6,253.6L839.4,254.9L840.1,256.2L840.9,257.5L841.6,258.8L842.4,260.1L843.1,261.4L843.8,262.7L844.6,264.0L845.3,265.2L846.0,266.4L846.7,267.6L847.4,268.7L848.1,269.9L848.7,271.0L849.4,272.1L850.2,273.3L851.0,274.6L851.8,275.9L852.7,277.2L853.5,278.4L854.3,279.5L855.1,280.7L855.9,281.9L856.8,283.1L857.8,284.4L858.7,285.7L859.6,287.0L860.6,288.3L861.5,289.6L862.4,290.8L863.2,292.0L864.1,293.2L864.9,294.4L865.8,295.6L866.6,296.9L867.4,298.1L868.3,299.3L869.1,300.5L869.9,301.8L870.7,303.0L871.5,304.2L872.3,305.4L873.1,306.6L873.9,307.8L874.7,309.0L875.5,310.2L876.3,311.4L877.1,312.7L878.0,313.9L878.8,315.2L879.6,316.4L880.4,317.6L881.3,318.8L882.1,319.9L882.9,321.1L883.7,322.2L884.6,323.4L885.4,324.5L886.2,325.6L887.0,326.7L887.9,327.8L888.8,329.0L889.7,330.2L890.7,331.4L891.6,332.6L892.5,333.7L893.4,334.9L894.4,336.0L895.3,337.1L896.2,338.2L897.2,339.2L898.1,340.3L899.0,341.3L899.9,342.4L900.9,343.4L901.8,344.4L902.7,345.5L903.7,346.6L904.7,347.7L905.8,348.9L906.8,350.0L907.8,351.1L908.6,352.0L909.5,352.9L910.3,353.8L911.2,354.7L912.1,355.5L913.1,356.4L914.1,357.3L915.1,358.2L916.1,359.2L917.2,360.1L918.3,361.0L919.4,362.0L920.4,363.0L921.5,363.9L922.6,364.8L923.7,365.8L924.7,366.7L925.8,367.6L926.9,368.6L927.9,369.5L929.0,370.5L930.1,371.4L931.1,372.4L932.2,373.3L933.2,374.2L934.3,375.1L935.4,375.9L936.4,376.7L937.5,377.5L938.6,378.3L939.6,379.1L940.7,379.9L941.8,380.7L943.0,381.6L944.2,382.5L945.5,383.3L946.7,384.2L947.9,385.0L949.2,385.8L950.4,386.6L951.6,387.3L952.9,388.0L954.1,388.6L955.4,389.3L956.6,389.9L957.8,390.7L959.1,391.4L960.3,392.1L961.6,392.8L962.8,393.5L964.0,394.2L965.3,394.9L966.5,395.5L967.7,396.1L969.0,396.7L970.2,397.3L971.5,397.9L972.7,398.6L973.9,399.2L975.2,399.8L976.4,400.4L977.7,401.0L979.0,401.7L980.4,402.4L981.9,403.1L983.4,403.8L984.8,404.5L986.3,405.2L987.8,405.8L989.3,406.4L990.8,407.0L992.3,407.6L993.8,408.1L995.2,408.7L996.7,409.3L998.2,409.9L999.7,410.4L1001.2,410.9L1002.7,411.4L1004.2,411.9L1005.6,412.3L1007.1,412.7L1008.6,413.2L1010.1,413.6L1011.6,414.1L1013.1,414.5L1014.6,415.0L1016.0,415.4L1017.5,415.8L1019.0,416.2L1020.5,416.5L1022.0,416.9L1023.5,417.2L1025.0,417.6L1026.4,417.9L1027.9,418.3L1029.4,418.6L1031.0,418.9L1032.8,419.3L1034.6,419.6L1036.5,419.9L1038.3,420.2L1040.2,420.6L1042.1,420.9L1043.9,421.2L1045.8,421.5L1047.6,421.8L1049.5,422.1L1051.3,422.4L1053.2,422.6L1055.1,422.9L1056.9,423.2L1058.8,423.5L1060.6,423.7L1062.5,424.0L1064.3,424.2L1066.2,424.5L1068.0,424.7L1069.8,424.9L1071.5,425.1L1073.4,425.4L1075.3,425.6L1077.1,425.8L1078.8,426.0L1080.5,426.2L1082.3,426.4L1084.1,426.6L1085.9,426.8L1087.7,427.0L1089.6,427.2L1091.4,427.4L1093.3,427.5L1095.2,427.7L1097.1,427.9L1099.0,428.0L1100.9,428.2L1102.8,428.3L1104.7,428.5L1106.6,428.6L1108.5,428.7L1110.2,428.8L1112.0,428.8L1114.0,428.9L1116.2,428.9L1118.2,428.9L1120.4,428.9L1122.8,428.9L1125.2,428.9L1127.5,428.9L1129.7,428.9L1131.4,428.9L1132.9,428.9" fill="none" stroke="#4c72b0" stroke-width="2.1" stroke-dasharray="7.9 3.2"/>
<path d="M103.0,429.0L104.2,429.0L105.6,429.0L107.2,429.0L108.9,429.0L110.9,429.0L113.0,429.0L115.2,429.0L117.4,429.0L119.7,429.0L122.0,429.0L124.3,429.0L126.6,429.0L128.8,429.0L130.8,429.0L132.8,429.0L134.8,429.0L136.7,429.0L138.8,429.0L140.8,428.9L142.8,428.9L144.9,428.9L146.9,428.9L148.9,428.8L150.8,428.8L152.7,428.8L154.6,428.7L156.4,428.7L158.0,428.7L159.9,428.6L162.1,428.6L164.4,428.5L166.6,428.4L168.6,428.3L170.5,428.2L172.3,428.1L174.0,428.1L175.7,428.0L177.5,427.9L179.4,427.8L181.3,427.7L183.0,427.6L184.7,427.5L186.5,427.4L188.5,427.4L190.5,427.3L192.7,427.3L195.0,427.3L197.2,427.4L199.5,427.4L201.5,427.4L203.5,427.3L205.6,427.3L207.5,427.1L209.1,427.0L210.8,426.8L212.5,426.5L214.3,426.2L216.0,425.9L217.6,425.5L219.2,425.0L220.8,424.5L222.3,424.0L223.8,423.4L225.4,422.9L226.9,422.2L228.2,421.4L229.3,420.7L230.1,420.0L231.0,419.1L232.0,418.1L233.0,417.0L233.9,416.0L234.8,414.9L235.7,413.8L236.7,412.6L237.7,411.4L238.7,410.2L239.6,409.1L240.5,408.0L241.5,406.9L242.5,405.8L243.5,404.8L244.4,403.9L245.3,403.0L246.3,402.1L247.3,401.1L248.4,400.2L249.5,399.3L250.5,398.3L251.6,397.3L252.5,396.2L253.5,395.1L254.4,394.0L255.3,392.8L256.3,391.6L257.2,390.4L258.0,389.3L258.8,388.3L259.6,387.3L260.4,386.2L261.2,385.1L262.0,384.1L262.8,382.9L263.6,381.8L264.3,380.7L265.1,379.6L265.9,378.5L266.7,377.3L267.5,376.0L268.3,374.6L269.0,373.4L269.7,372.1L270.4,370.8L271.1,369.4L271.8,368.0L272.5,366.5L273.2,365.2L273.8,363.8L274.5,362.5L275.1,361.3L275.6,360.1L276.1,359.0L276.7,358.0L277.2,356.8L277.8,355.5L278.6,354.0L279.3,352.7L280.0,351.3L280.7,350.0L281.4,348.6L282.1,347.3L282.8,345.9L283.5,344.5L284.3,343.1L285.0,341.6L285.8,340.2L286.6,338.8L287.3,337.4L288.1,336.0L288.8,334.6L289.6,333.3L290.3,331.9L291.1,330.6L291.8,329.2L292.8,327.7L293.6,326.4L294.4,325.2L295.2,324.0L296.0,322.9L296.7,321.9L297.5,320.8L298.3,319.7L299.2,318.5L300.2,317.3L301.1,316.1L302.0,314.9L302.9,313.8L303.9,312.7L304.8,311.6L305.7,310.5L306.7,309.4L307.6,308.3L308.5,307.3L309.4,306.2L310.4,305.2L311.3,304.2L312.2,303.1L313.2,302.1L314.1,301.0L315.1,300.0L316.0,298.9L317.0,297.8L317.9,296.7L318.9,295.7L319.7,294.7L320.6,293.7L321.6,292.6L322.6,291.5L323.5,290.5L324.4,289.5L325.3,288.4L326.1,287.3L327.0,286.1L327.8,285.0L328.6,283.8L329.4,282.6L330.1,281.4L330.9,280.1L331.7,278.9L332.5,277.6L333.3,276.3L334.1,275.0L334.9,273.6L335.7,272.3L336.5,270.9L337.3,269.6L338.1,268.2L338.9,266.9L339.7,265.6L340.5,264.2L341.3,262.9L342.1,261.6L342.9,260.3L343.7,259.0L344.5,257.7L345.3,256.5L346.1,255.2L346.9,254.0L347.7,253.0L348.5,251.9L349.6,250.7L350.7,249.6L351.8,248.7L352.9,247.9L354.2,247.3L355.9,246.9L357.7,246.9L359.4,247.3L360.7,247.8L361.8,248.5L362.9,249.2L364.1,250.1L365.1,251.0L366.1,251.8L367.0,252.7L368.0,253.6L368.9,254.6L369.8,255.6L370.8,256.6L371.7,257.6L372.6,258.7L373.5,259.8L374.5,260.9L375.4,262.0L376.3,263.1L377.2,264.1L378.1,265.1L379.0,266.2L379.9,267.2L380.9,268.4L381.9,269.5L382.8,270.6L383.7,271.8L384.6,273.0L385.6,274.2L386.6,275.4L387.5,276.6L388.5,277.8L389.3,278.9L390.2,280.0L391.0,281.2L391.8,282.3L392.6,283.3L393.4,284.4L394.1,285.3L394.9,286.3L395.8,287.3L396.8,288.3L397.7,289.3L398.6,290.2L399.5,291.0L400.5,291.9L401.6,292.8L402.7,293.8L403.8,294.6L404.9,295.6L406.0,296.5L407.0,297.4L407.9,298.3L408.8,299.3L409.8,300.2L410.7,301.2L411.6,302.1L412.5,303.0L413.5,304.0L414.4,305.0L415.3,305.9L416.3,306.8L417.2,307.7L418.3,308.6L419.4,309.4L420.5,310.2L421.7,311.1L422.8,312.0L423.9,312.9L425.0,313.8L426.1,314.8L427.2,315.9L428.3,316.9L429.3,318.0L430.2,319.0L431.1,320.1L432.1,321.2L433.0,322.4L433.9,323.5L434.9,324.5L435.8,325.6L436.8,326.7L437.8,327.8L438.6,328.9L439.5,330.0L440.3,331.3L441.1,332.6L441.8,333.9L442.5,335.2L443.2,336.4L443.9,337.7L444.6,338.9L445.2,340.1L445.9,341.5L446.4,343.0L446.9,344.5L447.4,345.9L447.9,347.3L448.4,348.6L448.9,349.8L449.3,351.0L449.8,352.0L450.3,352.9L450.7,353.9L451.2,354.9L451.7,356.0L452.2,357.2L452.8,358.5L453.4,359.9L453.9,361.5L454.5,363.0L455.1,364.6L455.7,366.3L456.3,367.8L456.9,369.3L457.4,370.8L458.0,372.3L458.6,373.7L459.1,375.2L459.7,376.7L460.2,378.1L460.8,379.6L461.3,381.2L461.9,382.7L462.4,384.2L462.9,385.7L463.4,387.2L463.9,388.8L464.4,390.3L464.9,391.9L465.4,393.4L465.9,395.0L466.5,396.5L467.0,398.0L467.5,399.5L468.0,401.0L468.6,402.5L469.1,404.0L469.7,405.5L470.3,406.9L470.8,408.4L471.4,409.8L471.9,411.3L472.5,412.8L473.0,414.3L473.6,415.7L474.1,417.1L474.6,418.5L475.1,420.0L475.6,421.4L476.2,422.8L476.7,424.3L477.2,425.8L477.6,427.3L478.1,428.8L478.6,430.4L479.0,431.9L479.5,433.5L479.9,435.1L480.4,436.8L480.8,438.4L481.3,440.0L481.7,441.6L482.2,443.2L482.7,444.8L483.2,446.4L483.7,447.9L484.3,449.4L484.8,450.9L485.4,452.4L486.0,453.8L486.7,455.2L487.3,456.6L487.9,458.0L488.6,459.5L489.2,460.9L489.8,462.4L490.4,463.8L491.1,465.3L491.7,466.8L492.3,468.2L492.9,469.7L493.5,471.1L494.2,472.5L494.8,473.9L495.5,475.4L496.2,476.8L496.9,478.2L497.6,479.6L498.3,480.9L499.0,482.3L499.7,483.6L500.4,484.9L501.1,486.3L501.8,487.6L502.5,488.9L503.2,490.2L503.9,491.4L504.6,492.6L505.3,493.8L506.1,495.1L506.9,496.4L507.7,497.6L508.5,498.7L509.3,499.9L510.1,501.0L510.9,502.2L511.7,503.3L512.5,504.4L513.3,505.5L514.1,506.5L514.9,507.6L515.6,508.6L516.5,509.6L517.4,510.8L518.3,511.9L519.2,513.0L520.2,514.1L521.1,515.1L522.1,516.1L523.1,517.2L524.2,518.1L525.4,519.1L526.5,519.9L527.7,520.8L529.0,521.7L530.4,522.6L531.8,523.4L533.3,524.1L535.1,524.7L536.9,525.1L538.9,525.4L541.1,525.5L543.2,525.4L544.9,525.0L546.4,524.4L547.8,523.6L548.9,522.8L549.8,522.0L550.8,521.0L551.7,520.0L552.7,519.0L553.6,518.0L554.5,516.9L555.5,515.9L556.4,514.8L557.3,513.7L558.2,512.6L559.2,511.5L560.1,510.4L561.0,509.3L562.0,508.2L562.9,507.1L563.8,506.0L564.7,505.0L565.7,503.9L566.6,502.8L567.5,501.8L568.5,500.7L569.4,499.6L570.3,498.5L571.1,497.4L571.9,496.4L572.7,495.4L573.5,494.3L574.3,493.2L575.1,492.1L575.9,491.0L576.7,489.8L577.5,488.6L578.3,487.3L579.1,486.1L579.9,484.8L580.7,483.7L581.5,482.6L582.5,481.5L583.4,480.5L584.4,479.6L585.2,478.8L586.2,478.0L587.3,477.1L588.5,476.4L589.8,475.8L591.3,475.4L592.9,475.0L594.6,474.6L596.3,474.3L598.1,474.0L600.0,473.7L601.9,473.3L603.7,473.0L605.6,472.6L607.5,472.3L609.3,471.9L611.2,471.5L613.0,471.2L614.9,470.8L616.8,470.5L618.6,470.2L620.5,470.1L622.4,469.9L624.3,469.8L626.1,469.6L628.0,469.4L629.8,469.1L631.5,468.7L633.0,468.3L634.4,467.9L635.8,467.4L637.2,466.9L638.6,466.2L640.0,465.6L641.4,464.8L642.8,464.1L644.2,463.3L645.6,462.5L646.9,461.7L648.3,460.9L649.8,460.1L651.2,459.3L652.6,458.5L653.8,457.6L654.9,456.8L655.8,456.0L656.7,455.1L657.6,454.1L658.5,453.0L659.2,451.9L659.9,450.8L660.6,449.6L661.3,448.3L661.9,447.0L662.6,445.8L663.2,444.6L663.9,443.3L664.5,442.1L665.1,440.9L665.7,439.7L666.3,438.4L666.9,437.2L667.5,435.9L668.1,434.7L668.6,433.4L669.2,432.0L669.8,430.6L670.5,429.2L671.1,427.8L671.7,426.5L672.3,425.1L672.9,423.8L673.5,422.4L674.1,421.0L674.7,419.6L675.3,418.2L675.9,416.8L676.5,415.4L677.1,413.9L677.7,412.5L678.3,411.0L678.9,409.6L679.4,408.1L680.0,406.6L680.5,405.1L681.1,403.6L681.6,402.1L682.2,400.7L682.7,399.2L683.3,397.7L683.8,396.2L684.4,394.8L685.0,393.3L685.5,391.9L686.1,390.4L686.6,388.9L687.2,387.4L687.7,385.9L688.3,384.3L688.8,382.9L689.3,381.4L689.8,379.9L690.3,378.4L690.8,376.8L691.3,375.3L691.8,373.7L692.4,372.2L692.9,370.7L693.4,369.1L693.9,367.6L694.4,366.1L694.9,364.5L695.4,363.0L695.9,361.5L696.4,360.0L696.9,358.5L697.4,356.9L697.9,355.4L698.4,353.9L698.9,352.4L699.4,350.9L700.0,349.3L700.5,347.8L701.0,346.3L701.5,344.8L702.0,343.3L702.5,341.7L703.0,340.2L703.5,338.7L704.0,337.2L704.5,335.7L705.0,334.1L705.5,332.6L706.1,331.0L706.6,329.5L707.1,327.9L707.7,326.3L708.2,324.7L708.7,323.2L709.2,321.7L709.6,320.2L710.1,318.7L710.6,317.2L711.1,315.7L711.6,314.2L712.0,312.7L712.5,311.2L713.0,309.8L713.4,308.3L713.9,306.8L714.4,305.3L714.9,303.9L715.4,302.4L715.9,300.9L716.5,299.5L717.0,298.0L717.6,296.5L718.1,295.0L718.7,293.4L719.3,291.9L719.9,290.4L720.5,289.0L721.0,287.6L721.5,286.2L722.1,284.7L722.6,283.2L723.2,281.8L723.8,280.3L724.3,278.9L724.9,277.5L725.4,276.1L725.9,274.8L726.5,273.5L727.1,272.0L727.8,270.5L728.4,269.0L729.1,267.5L729.7,266.1L730.3,264.8L730.9,263.6L731.5,262.5L732.2,261.3L733.1,259.9L734.0,258.7L734.9,257.7L735.7,256.8L736.6,255.8L737.5,254.9L738.7,254.1L740.2,253.6L742.1,253.2L744.1,252.8L746.0,252.5L747.8,252.1L749.5,251.7L750.8,251.1L751.9,250.4L753.1,249.7L754.4,249.1L755.9,248.6L757.5,248.1L759.2,247.8L760.8,247.7L762.3,247.8L763.6,248.2L765.0,248.7L766.3,249.4L767.5,250.2L768.6,251.1L769.7,252.0L770.8,253.1L771.9,254.0L772.9,254.9L773.8,255.8L774.7,256.7L775.7,257.6L776.6,258.6L777.5,259.6L778.3,260.6L779.1,261.6L779.9,262.7L780.7,263.8L781.5,264.9L782.3,266.0L783.1,267.1L783.9,268.2L784.7,269.4L785.5,270.6L786.3,271.8L787.1,273.0L787.9,274.2L788.7,275.5L789.5,276.8L790.2,278.1L791.0,279.4L791.8,280.8L792.6,282.1L793.4,283.4L794.3,284.7L795.1,286.0L796.1,287.3L797.0,288.6L798.0,289.9L798.9,291.1L799.9,292.1L800.8,293.1L801.9,294.1L803.0,294.9L804.1,295.6L805.2,296.2L806.4,296.8L807.7,297.5L809.1,298.1L810.5,298.8L811.8,299.6L812.9,300.4L814.0,301.2L815.1,302.2L816.2,303.1L817.3,304.0L818.4,304.8L819.7,305.7L821.0,306.5L822.2,307.3L823.6,307.9L825.0,308.5L826.7,308.9L828.5,309.2L830.4,309.3L832.4,309.5L834.4,309.7L836.6,309.9L838.7,310.0L840.6,309.8L842.1,309.3L843.5,308.6L844.7,307.8L846.0,306.9L847.3,306.1L848.6,305.2L850.0,304.5L851.4,303.8L852.8,303.2L854.3,302.6L855.7,302.0L857.2,301.5L858.7,301.1L860.3,300.6L861.8,300.1L863.3,299.6L864.8,299.0L866.2,298.4L867.5,297.7L868.8,296.9L870.0,296.1L871.1,295.3L872.3,294.4L873.4,293.6L874.5,292.7L875.7,291.9L876.9,291.2L878.3,290.4L879.8,289.7L881.4,289.2L883.2,289.0L885.0,289.0L886.8,289.2L888.3,289.5L889.7,290.0L891.1,290.6L892.5,291.2L893.8,291.8L895.1,292.4L896.4,293.0L897.7,293.7L899.0,294.4L900.2,295.1L901.3,295.8L902.4,296.5L903.5,297.3L904.6,298.1L905.7,299.0L906.8,299.9L907.9,300.8L909.0,301.6L910.2,302.4L911.6,303.0L912.9,303.6L914.3,304.1L915.8,304.6L917.6,305.0L919.4,305.3L921.1,305.9L922.4,306.5L923.5,307.2L924.6,308.1L925.8,309.0L926.8,310.1L927.7,311.1L928.5,312.2L929.3,313.4L930.1,314.6L930.9,315.9L931.7,317.2L932.4,318.5L933.1,319.7L933.8,320.9L934.5,322.2L935.2,323.5L935.9,324.8L936.6,326.1L937.3,327.4L938.0,328.7L938.7,330.1L939.4,331.4L940.1,332.8L940.8,334.2L941.5,335.6L942.2,337.0L942.9,338.4L943.6,339.8L944.2,341.2L944.9,342.6L945.5,343.9L946.1,345.3L946.8,346.7L947.4,348.1L948.0,349.5L948.6,350.9L949.2,352.3L949.8,353.7L950.4,355.2L951.1,356.6L951.7,358.0L952.3,359.4L952.9,360.8L953.6,362.2L954.2,363.6L954.9,364.9L955.6,366.2L956.3,367.5L957.0,368.8L957.7,370.1L958.5,371.4L959.3,372.7L960.1,374.1L960.8,375.5L961.6,376.8L962.4,378.1L963.2,379.4L964.0,380.6L964.8,381.9L965.6,383.2L966.4,384.4L967.2,385.6L968.0,386.8L968.8,387.9L969.6,389.0L970.5,390.2L971.5,391.4L972.4,392.5L973.3,393.5L974.2,394.5L975.2,395.6L976.3,396.6L977.4,397.7L978.5,398.7L979.6,399.6L980.8,400.6L982.1,401.5L983.5,402.3L984.9,403.1L986.3,403.9L987.7,404.6L989.1,405.2L990.5,405.9L991.8,406.6L993.0,407.3L994.1,408.1L995.2,408.8L996.4,409.6L997.5,410.4L998.6,411.2L999.7,412.0L1000.8,412.8L1001.9,413.7L1003.0,414.5L1004.2,415.2L1005.3,416.0L1006.4,416.8L1007.5,417.5L1008.7,418.2L1010.0,419.0L1011.4,419.7L1012.8,420.5L1014.2,421.1L1015.6,421.8L1017.0,422.3L1018.4,422.9L1019.8,423.4L1021.2,423.8L1022.5,424.1L1023.9,424.5L1025.3,424.9L1026.7,425.3L1028.1,425.7L1029.5,426.2L1030.9,426.8L1032.3,427.4L1033.7,428.1L1035.1,428.8L1036.5,429.5L1037.9,430.0L1039.3,430.5L1040.7,431.0L1042.2,431.4L1043.9,431.8L1045.8,432.3L1047.6,432.7L1049.5,433.0L1051.3,433.3L1053.2,433.6L1055.1,433.7L1056.9,433.8L1058.8,433.8L1060.6,433.6L1062.5,433.4L1064.3,433.2L1066.2,433.0L1068.0,432.8L1069.8,432.5L1071.7,432.3L1073.6,432.1L1075.5,431.9L1077.4,431.8L1079.4,431.6L1081.3,431.5L1083.3,431.3L1085.3,431.2L1087.3,431.0L1089.3,430.9L1091.3,430.7L1093.2,430.5L1095.1,430.3L1097.1,430.1L1099.0,429.9L1100.9,429.7L1102.8,429.5L1104.8,429.3L1106.7,429.2L1108.5,429.1L1110.2,429.0L1112.0,429.0L1114.0,428.9L1116.2,428.9L1118.2,428.9L1120.4,428.9L1122.8,428.9L1125.2,428.9L1127.5,428.9L1129.7,428.9L1131.4,428.9L1132.9,428.9" fill="none" stroke="#c44e52" stroke-width="2.1" stroke-linejoin="round"/>
</g>
<rect x="86.8" y="642.7" width="13.8" height="1" fill="#262626"/>
<text x="101.2" y="648.0" font-family="Liberation Serif" font-size="17.3" text-anchor="start" fill="#262626" textLength="17.6" lengthAdjust="spacingAndGlyphs" >90</text>
<rect x="144.1" y="642.7" width="13.8" height="1" fill="#262626"/>
<text x="158.5" y="648.0" font-family="Liberation Serif" font-size="17.3" text-anchor="start" fill="#262626" textLength="17.6" lengthAdjust="spacingAndGlyphs" >80</text>
<rect x="201.4" y="642.7" width="13.8" height="1" fill="#262626"/>
<text x="215.8" y="648.0" font-family="Liberation Serif" font-size="17.3" text-anchor="start" fill="#262626" textLength="17.6" lengthAdjust="spacingAndGlyphs" >70</text>
<rect x="258.7" y="642.7" width="13.8" height="1" fill="#262626"/>
<text x="273.1" y="648.0" font-family="Liberation Serif" font-size="17.3" text-anchor="start" fill="#262626" textLength="17.6" lengthAdjust="spacingAndGlyphs" >60</text>
<rect x="316.0" y="642.7" width="13.8" height="1" fill="#262626"/>
<text x="330.4" y="648.0" font-family="Liberation Serif" font-size="17.3" text-anchor="start" fill="#262626" textLength="17.6" lengthAdjust="spacingAndGlyphs" >50</text>
<rect x="373.4" y="642.7" width="13.8" height="1" fill="#262626"/>
<text x="387.8" y="648.0" font-family="Liberation Serif" font-size="17.3" text-anchor="start" fill="#262626" textLength="17.6" lengthAdjust="spacingAndGlyphs" >40</text>
<rect x="430.7" y="642.7" width="13.8" height="1" fill="#262626"/>
<text x="445.1" y="648.0" font-family="Liberation Serif" font-size="17.3" text-anchor="start" fill="#262626" textLength="17.6" lengthAdjust="spacingAndGlyphs" >30</text>
<rect x="488.0" y="642.7" width="13.8" height="1" fill="#262626"/>
<text x="502.4" y="648.0" font-family="Liberation Serif" font-size="17.3" text-anchor="start" fill="#262626" textLength="17.6" lengthAdjust="spacingAndGlyphs" >20</text>
<rect x="545.3" y="642.7" width="13.8" height="1" fill="#262626"/>
<text x="559.7" y="648.0" font-family="Liberation Serif" font-size="17.3" text-anchor="start" fill="#262626" textLength="17.6" lengthAdjust="spacingAndGlyphs" >10</text>
<text x="614.3" y="648.0" font-family="Liberation Serif" font-size="17.3" text-anchor="start" fill="#262626" textLength="8.6" lengthAdjust="spacingAndGlyphs" >0</text>
<text x="667.1" y="648.0" font-family="Liberation Serif" font-size="17.3" text-anchor="start" fill="#262626" textLength="17.6" lengthAdjust="spacingAndGlyphs" >10</text>
<text x="724.4" y="648.0" font-family="Liberation Serif" font-size="17.3" text-anchor="start" fill="#262626" textLength="17.6" lengthAdjust="spacingAndGlyphs" >20</text>
<text x="781.7" y="648.0" font-family="Liberation Serif" font-size="17.3" text-anchor="start" fill="#262626" textLength="17.6" lengthAdjust="spacingAndGlyphs" >30</text>
<text x="839.0" y="648.0" font-family="Liberation Serif" font-size="17.3" text-anchor="start" fill="#262626" textLength="17.6" lengthAdjust="spacingAndGlyphs" >40</text>
<text x="896.3" y="648.0" font-family="Liberation Serif" font-size="17.3" text-anchor="start" fill="#262626" textLength="17.6" lengthAdjust="spacingAndGlyphs" >50</text>
<text x="953.7" y="648.0" font-family="Liberation Serif" font-size="17.3" text-anchor="start" fill="#262626" textLength="17.6" lengthAdjust="spacingAndGlyphs" >60</text>
<text x="1011.0" y="648.0" font-family="Liberation Serif" font-size="17.3" text-anchor="start" fill="#262626" textLength="17.6" lengthAdjust="spacingAndGlyphs" >70</text>
<text x="1068.3" y="648.0" font-family="Liberation Serif" font-size="17.3" text-anchor="start" fill="#262626" textLength="17.6" lengthAdjust="spacingAndGlyphs" >80</text>
<text x="1125.6" y="648.0" font-family="Liberation Serif" font-size="17.3" text-anchor="start" fill="#262626" textLength="17.6" lengthAdjust="spacingAndGlyphs" >90</text>
<text x="65.3" y="47.0" font-family="Liberation Serif" font-size="17.3" text-anchor="start" fill="#262626" textLength="22.3" lengthAdjust="spacingAndGlyphs" >3.0</text>
<text x="65.3" y="629.0" font-family="Liberation Serif" font-size="17.3" text-anchor="start" fill="#262626" textLength="22.3" lengthAdjust="spacingAndGlyphs" >1.5</text>
<rect x="50.8" y="623.4" width="14.1" height="1" fill="#262626"/>
<text x="65.3" y="112.5" font-family="Liberation Serif" font-size="17.3" text-anchor="start" fill="#262626" textLength="22.3" lengthAdjust="spacingAndGlyphs" >2.5</text>
<text x="65.3" y="177.4" font-family="Liberation Serif" font-size="17.3" text-anchor="start" fill="#262626" textLength="22.3" lengthAdjust="spacingAndGlyphs" >2.0</text>
<text x="65.3" y="241.4" font-family="Liberation Serif" font-size="17.3" text-anchor="start" fill="#262626" textLength="22.3" lengthAdjust="spacingAndGlyphs" >1.5</text>
<text x="65.3" y="306.4" font-family="Liberation Serif" font-size="17.3" text-anchor="start" fill="#262626" textLength="22.3" lengthAdjust="spacingAndGlyphs" >1.0</text>
<text x="65.3" y="370.4" font-family="Liberation Serif" font-size="17.3" text-anchor="start" fill="#262626" textLength="22.3" lengthAdjust="spacingAndGlyphs" >0.5</text>
<text x="65.3" y="434.9" font-family="Liberation Serif" font-size="17.3" text-anchor="start" fill="#262626" textLength="22.3" lengthAdjust="spacingAndGlyphs" >0.0</text>
<text x="65.3" y="500.4" font-family="Liberation Serif" font-size="17.3" text-anchor="start" fill="#262626" textLength="22.3" lengthAdjust="spacingAndGlyphs" >0.5</text>
<rect x="50.8" y="494.8" width="14.1" height="1" fill="#262626"/>
<text x="65.3" y="564.5" font-family="Liberation Serif" font-size="17.3" text-anchor="start" fill="#262626" textLength="22.3" lengthAdjust="spacingAndGlyphs" >1.0</text>
<rect x="50.8" y="558.9" width="14.1" height="1" fill="#262626"/>
<text x="104.3" y="37.0" font-family="Liberation Serif" font-size="14.2" text-anchor="start" fill="#262626" textLength="30.9" lengthAdjust="spacingAndGlyphs" >1e24</text>
<text x="365.8" y="32.8" font-family="Liberation Serif" font-size="22.6" text-anchor="start" fill="#262626" textLength="50.4" lengthAdjust="spacingAndGlyphs" >Earth</text>
<text x="423.8" y="32.8" font-family="Liberation Serif" font-size="22.6" text-anchor="start" fill="#262626" textLength="71.7" lengthAdjust="spacingAndGlyphs" >Relative</text>
<text x="502.9" y="32.8" font-family="Liberation Serif" font-size="22.6" text-anchor="start" fill="#262626" textLength="47.2" lengthAdjust="spacingAndGlyphs" >AAM</text>
<text x="558.2" y="32.8" font-family="Liberation Serif" font-size="22.6" text-anchor="start" fill="#262626" textLength="20.1" lengthAdjust="spacingAndGlyphs" >by</text>
<text x="585.7" y="32.8" font-family="Liberation Serif" font-size="22.6" text-anchor="start" fill="#262626" textLength="75.2" lengthAdjust="spacingAndGlyphs" >Latitude</text>
<text x="667.1" y="32.8" font-family="Liberation Serif" font-size="22.6" text-anchor="start" fill="#262626" textLength="25.0" lengthAdjust="spacingAndGlyphs" >for</text>
<text x="698.9" y="32.8" font-family="Liberation Serif" font-size="22.6" text-anchor="start" fill="#262626" textLength="35.4" lengthAdjust="spacingAndGlyphs" >Mar</text>
<text x="740.7" y="32.8" font-family="Liberation Serif" font-size="22.6" text-anchor="start" fill="#262626" textLength="23.5" lengthAdjust="spacingAndGlyphs" >08</text>
<text x="771.1" y="32.8" font-family="Liberation Serif" font-size="22.6" text-anchor="start" fill="#262626" textLength="47.3" lengthAdjust="spacingAndGlyphs" >0000</text>
<text x="826.3" y="32.8" font-family="Liberation Serif" font-size="22.6" text-anchor="start" fill="#262626" textLength="44.4" lengthAdjust="spacingAndGlyphs" >UTC</text>
<rect x="924.4" y="50.3" width="201.3" height="82.0" rx="3.2" fill="#eaeaf2" fill-opacity="0.8" stroke="#cccccc" stroke-opacity="0.8" stroke-width="1.2"/>
<path d="M930.8,63H961.2" stroke="#4c72b0" stroke-width="2.1" stroke-dasharray="7.9 3.2"/>
<rect x="930.9" y="83" width="34.1" height="12.8" fill="#4c72b0" fill-opacity="0.15" stroke="#4c72b0" stroke-opacity="0.15" stroke-width="1"/>
<path d="M930.3,114.9H965" stroke="#c44e52" stroke-width="2"/>
<text x="978.2" y="67.8" font-family="Liberation Serif" font-size="17.2" text-anchor="start" fill="#262626" textLength="81.2" lengthAdjust="spacingAndGlyphs" >1970-2010</text>
<text x="1065.8" y="67.8" font-family="Liberation Serif" font-size="17.2" text-anchor="start" fill="#262626" textLength="37.0" lengthAdjust="spacingAndGlyphs" >Mean</text>
<text x="978.6" y="95.3" font-family="Liberation Serif" font-size="17.2" text-anchor="start" fill="#262626" textLength="27.6" lengthAdjust="spacingAndGlyphs" >+/-</text>
<text x="1012.5" y="95.3" font-family="Liberation Serif" font-size="17.2" text-anchor="start" fill="#262626" >1</text>
<text x="1026.2" y="95.3" font-family="Liberation Sans" font-style="italic" font-size="16" fill="#262626" textLength="10.2" lengthAdjust="spacingAndGlyphs">σ</text>
<text x="1041.9" y="95.3" font-family="Liberation Serif" font-size="17.2" text-anchor="start" fill="#262626" textLength="23.9" lengthAdjust="spacingAndGlyphs" >and</text>
<text x="1073.0" y="95.3" font-family="Liberation Serif" font-size="17.2" text-anchor="start" fill="#262626" textLength="44.2" lengthAdjust="spacingAndGlyphs" >Range</text>
<text x="979.1" y="120.9" font-family="Liberation Serif" font-size="17.2" text-anchor="start" fill="#262626" textLength="41.2" lengthAdjust="spacingAndGlyphs" >Today</text>
<rect x="1054" y="663.1" width="166.5" height="24" rx="3.5" fill="#1a1a1a"/>
<text x="1059.2" y="678.9" font-family="Liberation Serif" font-size="15.3" text-anchor="start" fill="#fff" textLength="75.9" lengthAdjust="spacingAndGlyphs" >atlas.niu.edu</text>
<text x="1143.5" y="678.9" font-family="Liberation Serif" font-size="15.3" text-anchor="start" fill="#fff" textLength="71.3" lengthAdjust="spacingAndGlyphs" >@gensiniwx</text>
<text transform="translate(36,414.4) rotate(-90)" font-family="Liberation Sans" font-style="italic" font-size="19" fill="#262626" textLength="163.3" lengthAdjust="spacingAndGlyphs" xml:space="preserve">M<tspan font-size="13.3" dy="3.5">R</tspan><tspan dy="-3.5">  (kg · m</tspan><tspan font-size="13.3" dy="-8">2</tspan><tspan dy="8"> · s</tspan><tspan font-size="13.3" dy="-8">−1</tspan><tspan dy="8">)</tspan></text>
<g stroke="#262626" stroke-width="1.7" fill="none"><ellipse cx="618.6" cy="669.5" rx="4.6" ry="5.2" transform="rotate(12 618.6 669.5)"/><path d="M621.5,660L615.6,678.5"/></g>
</svg></div></body></html>
